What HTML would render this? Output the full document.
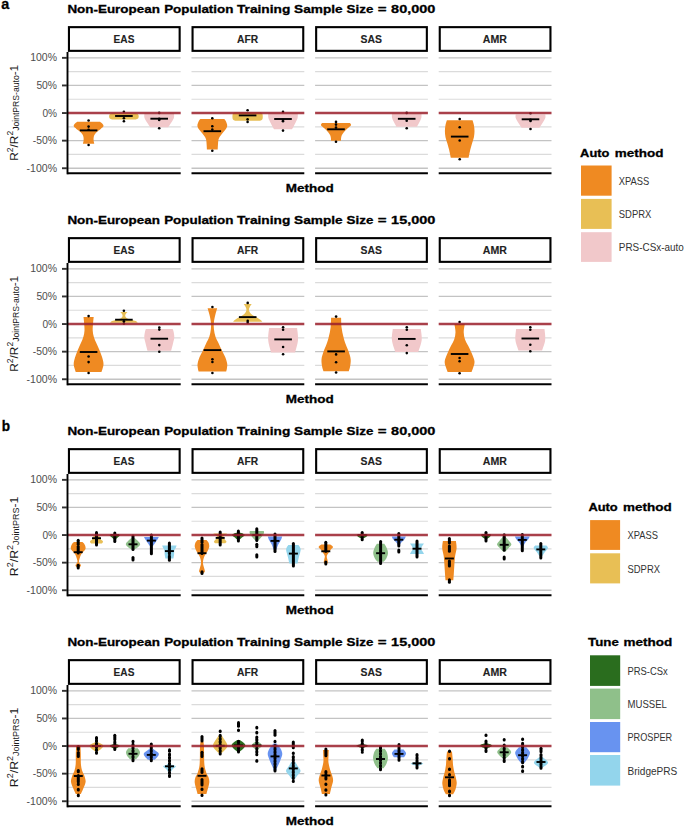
<!DOCTYPE html><html><head><meta charset="utf-8"><style>html,body{margin:0;padding:0;background:#fff;width:685px;height:827px;overflow:hidden}svg{display:block}text{font-family:"Liberation Sans", sans-serif}</style></head><body>
<svg width="685" height="827" viewBox="0 0 685 827">
<rect width="685" height="827" fill="#fff"/>
<text x="1.2" y="8.8" font-size="14" font-weight="bold" fill="#000" text-anchor="start" textLength="8" lengthAdjust="spacingAndGlyphs" stroke="#000" stroke-width="0.3">a</text>
<text x="1.8" y="430.8" font-size="14" font-weight="bold" fill="#000" text-anchor="start" textLength="8.3" lengthAdjust="spacingAndGlyphs" stroke="#000" stroke-width="0.3">b</text>
<text x="67.4" y="13.1" font-size="11.5" font-weight="bold" fill="#000" text-anchor="start" textLength="92.5" lengthAdjust="spacingAndGlyphs" stroke="#000" stroke-width="0.3">Non-European</text>
<text x="164.2" y="13.1" font-size="11.5" font-weight="bold" fill="#000" text-anchor="start" textLength="69.2" lengthAdjust="spacingAndGlyphs" stroke="#000" stroke-width="0.3">Population</text>
<text x="237" y="13.1" font-size="11.5" font-weight="bold" fill="#000" text-anchor="start" textLength="53.3" lengthAdjust="spacingAndGlyphs" stroke="#000" stroke-width="0.3">Training</text>
<text x="294.1" y="13.1" font-size="11.5" font-weight="bold" fill="#000" text-anchor="start" textLength="48.6" lengthAdjust="spacingAndGlyphs" stroke="#000" stroke-width="0.3">Sample</text>
<text x="346.6" y="13.1" font-size="11.5" font-weight="bold" fill="#000" text-anchor="start" textLength="26.8" lengthAdjust="spacingAndGlyphs" stroke="#000" stroke-width="0.3">Size</text>
<text x="377.7" y="13.1" font-size="11.5" font-weight="bold" fill="#000" text-anchor="start" textLength="8.8" lengthAdjust="spacingAndGlyphs" stroke="#000" stroke-width="0.3">=</text>
<text x="391.1" y="13.1" font-size="11.5" font-weight="bold" fill="#000" text-anchor="start" textLength="44.2" lengthAdjust="spacingAndGlyphs" stroke="#000" stroke-width="0.3">80,000</text>
<rect x="68.95" y="27.15" width="110.7" height="23.7" fill="#fff" stroke="#000" stroke-width="2.1"/>
<text x="124" y="42.9" font-size="10" font-weight="bold" fill="#222" text-anchor="middle" textLength="20.8" lengthAdjust="spacingAndGlyphs" stroke="#222" stroke-width="0.1">EAS</text>
<line x1="67.9" y1="57.85" x2="180.7" y2="57.85" stroke="#c3c3c3" stroke-width="1.3"/>
<line x1="67.9" y1="71.65" x2="180.7" y2="71.65" stroke="#dbdbdb" stroke-width="1.2"/>
<line x1="67.9" y1="85.45" x2="180.7" y2="85.45" stroke="#c3c3c3" stroke-width="1.3"/>
<line x1="67.9" y1="99.25" x2="180.7" y2="99.25" stroke="#dbdbdb" stroke-width="1.2"/>
<line x1="67.9" y1="126.85" x2="180.7" y2="126.85" stroke="#dbdbdb" stroke-width="1.2"/>
<line x1="67.9" y1="140.65" x2="180.7" y2="140.65" stroke="#c3c3c3" stroke-width="1.3"/>
<line x1="67.9" y1="154.45" x2="180.7" y2="154.45" stroke="#dbdbdb" stroke-width="1.2"/>
<line x1="67.9" y1="168.25" x2="180.7" y2="168.25" stroke="#c3c3c3" stroke-width="1.3"/>
<rect x="192.55" y="27.15" width="110.7" height="23.7" fill="#fff" stroke="#000" stroke-width="2.1"/>
<text x="247.6" y="42.9" font-size="10" font-weight="bold" fill="#222" text-anchor="middle" textLength="21.1" lengthAdjust="spacingAndGlyphs" stroke="#222" stroke-width="0.1">AFR</text>
<line x1="191.5" y1="57.85" x2="304.3" y2="57.85" stroke="#c3c3c3" stroke-width="1.3"/>
<line x1="191.5" y1="71.65" x2="304.3" y2="71.65" stroke="#dbdbdb" stroke-width="1.2"/>
<line x1="191.5" y1="85.45" x2="304.3" y2="85.45" stroke="#c3c3c3" stroke-width="1.3"/>
<line x1="191.5" y1="99.25" x2="304.3" y2="99.25" stroke="#dbdbdb" stroke-width="1.2"/>
<line x1="191.5" y1="126.85" x2="304.3" y2="126.85" stroke="#dbdbdb" stroke-width="1.2"/>
<line x1="191.5" y1="140.65" x2="304.3" y2="140.65" stroke="#c3c3c3" stroke-width="1.3"/>
<line x1="191.5" y1="154.45" x2="304.3" y2="154.45" stroke="#dbdbdb" stroke-width="1.2"/>
<line x1="191.5" y1="168.25" x2="304.3" y2="168.25" stroke="#c3c3c3" stroke-width="1.3"/>
<rect x="316.15" y="27.15" width="110.7" height="23.7" fill="#fff" stroke="#000" stroke-width="2.1"/>
<text x="371.2" y="42.9" font-size="10" font-weight="bold" fill="#222" text-anchor="middle" textLength="21.4" lengthAdjust="spacingAndGlyphs" stroke="#222" stroke-width="0.1">SAS</text>
<line x1="315.1" y1="57.85" x2="427.9" y2="57.85" stroke="#c3c3c3" stroke-width="1.3"/>
<line x1="315.1" y1="71.65" x2="427.9" y2="71.65" stroke="#dbdbdb" stroke-width="1.2"/>
<line x1="315.1" y1="85.45" x2="427.9" y2="85.45" stroke="#c3c3c3" stroke-width="1.3"/>
<line x1="315.1" y1="99.25" x2="427.9" y2="99.25" stroke="#dbdbdb" stroke-width="1.2"/>
<line x1="315.1" y1="126.85" x2="427.9" y2="126.85" stroke="#dbdbdb" stroke-width="1.2"/>
<line x1="315.1" y1="140.65" x2="427.9" y2="140.65" stroke="#c3c3c3" stroke-width="1.3"/>
<line x1="315.1" y1="154.45" x2="427.9" y2="154.45" stroke="#dbdbdb" stroke-width="1.2"/>
<line x1="315.1" y1="168.25" x2="427.9" y2="168.25" stroke="#c3c3c3" stroke-width="1.3"/>
<rect x="439.75" y="27.15" width="110.7" height="23.7" fill="#fff" stroke="#000" stroke-width="2.1"/>
<text x="494.8" y="42.9" font-size="10" font-weight="bold" fill="#222" text-anchor="middle" textLength="24.1" lengthAdjust="spacingAndGlyphs" stroke="#222" stroke-width="0.1">AMR</text>
<line x1="438.7" y1="57.85" x2="551.5" y2="57.85" stroke="#c3c3c3" stroke-width="1.3"/>
<line x1="438.7" y1="71.65" x2="551.5" y2="71.65" stroke="#dbdbdb" stroke-width="1.2"/>
<line x1="438.7" y1="85.45" x2="551.5" y2="85.45" stroke="#c3c3c3" stroke-width="1.3"/>
<line x1="438.7" y1="99.25" x2="551.5" y2="99.25" stroke="#dbdbdb" stroke-width="1.2"/>
<line x1="438.7" y1="126.85" x2="551.5" y2="126.85" stroke="#dbdbdb" stroke-width="1.2"/>
<line x1="438.7" y1="140.65" x2="551.5" y2="140.65" stroke="#c3c3c3" stroke-width="1.3"/>
<line x1="438.7" y1="154.45" x2="551.5" y2="154.45" stroke="#dbdbdb" stroke-width="1.2"/>
<line x1="438.7" y1="168.25" x2="551.5" y2="168.25" stroke="#c3c3c3" stroke-width="1.3"/>
<path d="M77.2 121.65 L100 121.65 C100.32 121.93 101.32 122.56 101.9 123.3 C102.48 124.04 103.68 125.17 103.5 126.1 C103.32 127.03 101.83 127.98 100.8 128.9 C99.77 129.82 98.32 130.68 97.3 131.6 C96.28 132.52 95.3 133.47 94.7 134.4 C94.1 135.33 93.88 136.18 93.7 137.2 C93.52 138.22 93.5 139.4 93.6 140.5 C93.7 141.6 94.18 143.25 94.3 143.8 L82.9 143.8 C83.02 143.25 83.5 141.6 83.6 140.5 C83.7 139.4 83.68 138.22 83.5 137.2 C83.32 136.18 83.1 135.33 82.5 134.4 C81.9 133.47 80.92 132.52 79.9 131.6 C78.88 130.68 77.43 129.82 76.4 128.9 C75.37 127.98 73.88 127.03 73.7 126.1 C73.52 125.17 74.72 124.04 75.3 123.3 C75.88 122.56 76.88 121.93 77.2 121.65 Z" fill="#EF8A22"/>
<path d="M111.9 113.2 L135.9 113.2 C136.28 113.4 137.73 113.88 138.2 114.4 C138.67 114.92 138.7 115.65 138.7 116.3 C138.7 116.95 138.67 117.77 138.2 118.3 C137.73 118.83 136.28 119.3 135.9 119.5 L111.9 119.5 C111.52 119.3 110.07 118.83 109.6 118.3 C109.13 117.77 109.1 116.95 109.1 116.3 C109.1 115.65 109.13 114.92 109.6 114.4 C110.07 113.88 111.52 113.4 111.9 113.2 Z" fill="#E8BF55"/>
<path d="M144.4 113.5 L174 113.5 C174 114.17 174.38 116.07 174 117.5 C173.62 118.93 172.47 120.77 171.7 122.1 C170.93 123.43 169.98 124.63 169.4 125.5 C168.82 126.37 168.4 127 168.2 127.3 L150.2 127.3 C150 127 149.58 126.37 149 125.5 C148.42 124.63 147.47 123.43 146.7 122.1 C145.93 120.77 144.78 118.93 144.4 117.5 C144.02 116.07 144.4 114.17 144.4 113.5 Z" fill="#F1C8CA"/>
<path d="M200.4 119.1 L224.2 119.1 C224.48 119.47 225.4 120.18 225.9 121.3 C226.4 122.42 227.27 124.42 227.2 125.8 C227.13 127.18 226.27 128.4 225.5 129.6 C224.73 130.8 223.5 131.88 222.6 133 C221.7 134.12 220.78 135.2 220.1 136.3 C219.42 137.4 218.85 138.3 218.5 139.6 C218.15 140.9 218.13 142.43 218 144.1 C217.87 145.77 217.75 148.68 217.7 149.6 L206.9 149.6 C206.85 148.68 206.73 145.77 206.6 144.1 C206.47 142.43 206.45 140.9 206.1 139.6 C205.75 138.3 205.18 137.4 204.5 136.3 C203.82 135.2 202.9 134.12 202 133 C201.1 131.88 199.87 130.8 199.1 129.6 C198.33 128.4 197.47 127.18 197.4 125.8 C197.33 124.42 198.2 122.42 198.7 121.3 C199.2 120.18 200.12 119.47 200.4 119.1 Z" fill="#EF8A22"/>
<path d="M234.6 112.3 L260.6 112.3 C260.92 112.58 262.18 112.88 262.5 114 C262.82 115.12 262.9 117.88 262.5 119 C262.1 120.12 260.5 120.42 260.1 120.7 L235.1 120.7 C234.7 120.42 233.1 120.12 232.7 119 C232.3 117.88 232.38 115.12 232.7 114 C233.02 112.88 234.28 112.58 234.6 112.3 Z" fill="#E8BF55"/>
<path d="M268.2 113.5 L297.8 113.5 C297.77 114.27 297.98 116.57 297.6 118.1 C297.22 119.63 296.18 121.27 295.5 122.7 C294.82 124.13 294.1 125.6 293.5 126.7 C292.9 127.8 292.17 128.87 291.9 129.3 L274.1 129.3 C273.83 128.87 273.1 127.8 272.5 126.7 C271.9 125.6 271.18 124.13 270.5 122.7 C269.82 121.27 268.78 119.63 268.4 118.1 C268.02 116.57 268.23 114.27 268.2 113.5 Z" fill="#F1C8CA"/>
<path d="M322.1 123 L349.9 123 C350.08 123.37 351.42 124.28 351 125.2 C350.58 126.12 348.57 127.38 347.4 128.5 C346.23 129.62 344.93 130.78 344 131.9 C343.07 133.02 342.28 134.18 341.8 135.2 C341.32 136.22 341.23 137.08 341.1 138 C340.97 138.92 341.02 140.25 341 140.7 L331 140.7 C330.98 140.25 331.03 138.92 330.9 138 C330.77 137.08 330.68 136.22 330.2 135.2 C329.72 134.18 328.93 133.02 328 131.9 C327.07 130.78 325.77 129.62 324.6 128.5 C323.43 127.38 321.42 126.12 321 125.2 C320.58 124.28 321.92 123.37 322.1 123 Z" fill="#EF8A22"/>
<path d="M391.9 113.8 L421.5 113.8 C421.47 114.52 421.63 116.72 421.3 118.1 C420.97 119.48 420.22 120.67 419.5 122.1 C418.78 123.53 417.42 125.93 417 126.7 L396.4 126.7 C395.98 125.93 394.62 123.53 393.9 122.1 C393.18 120.67 392.43 119.48 392.1 118.1 C391.77 116.72 391.93 114.52 391.9 113.8 Z" fill="#F1C8CA"/>
<path d="M446.9 120.25 L472.5 120.25 C472.73 121.06 473.57 123.29 473.9 125.1 C474.23 126.91 474.5 129.08 474.5 131.1 C474.5 133.12 474.3 135.18 473.9 137.2 C473.5 139.22 472.68 141.18 472.1 143.2 C471.52 145.22 470.98 146.88 470.4 149.3 C469.82 151.72 468.9 156.3 468.6 157.7 L450.8 157.7 C450.5 156.3 449.58 151.72 449 149.3 C448.42 146.88 447.88 145.22 447.3 143.2 C446.72 141.18 445.9 139.22 445.5 137.2 C445.1 135.18 444.9 133.12 444.9 131.1 C444.9 129.08 445.17 126.91 445.5 125.1 C445.83 123.29 446.67 121.06 446.9 120.25 Z" fill="#EF8A22"/>
<path d="M515.7 114.6 L545.3 114.6 C545.3 115.18 545.73 116.75 545.3 118.1 C544.87 119.45 543.67 121.1 542.7 122.7 C541.73 124.3 540.03 126.87 539.5 127.7 L521.5 127.7 C520.97 126.87 519.27 124.3 518.3 122.7 C517.33 121.1 516.13 119.45 515.7 118.1 C515.27 116.75 515.7 115.18 515.7 114.6 Z" fill="#F1C8CA"/>
<g fill="#000">
<circle cx="88.6" cy="120.5" r="1.3"/>
<circle cx="88.6" cy="145" r="1.3"/>
<circle cx="88.6" cy="126.6" r="1.3"/>
<circle cx="88.6" cy="129.8" r="1.3"/>
<line x1="79.8" y1="130.4" x2="97.4" y2="130.4" stroke="#000" stroke-width="1.9"/>
<circle cx="123.9" cy="111.8" r="1.3"/>
<circle cx="123.9" cy="118.3" r="1.3"/>
<circle cx="123.9" cy="121.2" r="1.3"/>
<line x1="115.1" y1="116" x2="132.7" y2="116" stroke="#000" stroke-width="1.9"/>
<circle cx="159.2" cy="112.9" r="1.3"/>
<circle cx="159.2" cy="118.9" r="1.3"/>
<circle cx="159.2" cy="119.9" r="1.3"/>
<circle cx="159.2" cy="128.3" r="1.3"/>
<line x1="150.4" y1="118.7" x2="168" y2="118.7" stroke="#000" stroke-width="1.9"/>
<circle cx="212.3" cy="118.3" r="1.3"/>
<circle cx="212.3" cy="126.3" r="1.3"/>
<circle cx="212.3" cy="129.6" r="1.3"/>
<circle cx="212.3" cy="150.7" r="1.3"/>
<line x1="203.5" y1="131.2" x2="221.1" y2="131.2" stroke="#000" stroke-width="1.9"/>
<circle cx="247.6" cy="110.2" r="1.3"/>
<circle cx="247.6" cy="119.3" r="1.3"/>
<circle cx="247.6" cy="121.9" r="1.3"/>
<line x1="238.8" y1="115.4" x2="256.4" y2="115.4" stroke="#000" stroke-width="1.9"/>
<circle cx="283" cy="111.9" r="1.3"/>
<circle cx="283" cy="120" r="1.3"/>
<circle cx="283" cy="121.2" r="1.3"/>
<circle cx="283" cy="130.6" r="1.3"/>
<line x1="274.2" y1="119" x2="291.8" y2="119" stroke="#000" stroke-width="1.9"/>
<circle cx="336" cy="121.9" r="1.3"/>
<circle cx="336" cy="124.6" r="1.3"/>
<circle cx="336" cy="127.6" r="1.3"/>
<circle cx="336" cy="141.8" r="1.3"/>
<line x1="327.2" y1="129.3" x2="344.8" y2="129.3" stroke="#000" stroke-width="1.9"/>
<circle cx="406.7" cy="112.9" r="1.3"/>
<circle cx="406.7" cy="120.8" r="1.3"/>
<circle cx="406.7" cy="128.2" r="1.3"/>
<line x1="397.9" y1="118.8" x2="415.5" y2="118.8" stroke="#000" stroke-width="1.9"/>
<circle cx="459.7" cy="119" r="1.3"/>
<circle cx="459.7" cy="127.2" r="1.3"/>
<circle cx="459.7" cy="140.5" r="1.3"/>
<circle cx="459.7" cy="159.2" r="1.3"/>
<line x1="450.9" y1="136.6" x2="468.5" y2="136.6" stroke="#000" stroke-width="1.9"/>
<circle cx="530.5" cy="113.2" r="1.3"/>
<circle cx="530.5" cy="119.9" r="1.3"/>
<circle cx="530.5" cy="121" r="1.3"/>
<circle cx="530.5" cy="129" r="1.3"/>
<line x1="521.7" y1="119.3" x2="539.3" y2="119.3" stroke="#000" stroke-width="1.9"/>
</g>
<line x1="67.9" y1="113.05" x2="180.7" y2="113.05" stroke="#9A1E2A" stroke-opacity="0.85" stroke-width="2.4"/>
<line x1="191.5" y1="113.05" x2="304.3" y2="113.05" stroke="#9A1E2A" stroke-opacity="0.85" stroke-width="2.4"/>
<line x1="315.1" y1="113.05" x2="427.9" y2="113.05" stroke="#9A1E2A" stroke-opacity="0.85" stroke-width="2.4"/>
<line x1="438.7" y1="113.05" x2="551.5" y2="113.05" stroke="#9A1E2A" stroke-opacity="0.85" stroke-width="2.4"/>
<line x1="67.5" y1="52" x2="67.5" y2="174.3" stroke="#000" stroke-width="1.9"/>
<line x1="67.4" y1="173.3" x2="180.7" y2="173.3" stroke="#000" stroke-width="2"/>
<line x1="191.5" y1="173.3" x2="304.3" y2="173.3" stroke="#000" stroke-width="2"/>
<line x1="315.1" y1="173.3" x2="427.9" y2="173.3" stroke="#000" stroke-width="2"/>
<line x1="438.7" y1="173.3" x2="551.5" y2="173.3" stroke="#000" stroke-width="2"/>
<line x1="62" y1="57.85" x2="67" y2="57.85" stroke="#333" stroke-width="1.9"/>
<text x="57" y="61.45" font-size="10.2" font-weight="normal" fill="#4d4d4d" text-anchor="end" textLength="26.8" lengthAdjust="spacingAndGlyphs">100%</text>
<line x1="62" y1="85.45" x2="67" y2="85.45" stroke="#333" stroke-width="1.9"/>
<text x="57" y="89.05" font-size="10.2" font-weight="normal" fill="#4d4d4d" text-anchor="end" textLength="20.6" lengthAdjust="spacingAndGlyphs">50%</text>
<line x1="62" y1="113.05" x2="67" y2="113.05" stroke="#333" stroke-width="1.9"/>
<text x="57" y="116.65" font-size="10.2" font-weight="normal" fill="#4d4d4d" text-anchor="end" textLength="14.6" lengthAdjust="spacingAndGlyphs">0%</text>
<line x1="62" y1="140.65" x2="67" y2="140.65" stroke="#333" stroke-width="1.9"/>
<text x="57" y="144.25" font-size="10.2" font-weight="normal" fill="#4d4d4d" text-anchor="end" textLength="24.2" lengthAdjust="spacingAndGlyphs">-50%</text>
<line x1="62" y1="168.25" x2="67" y2="168.25" stroke="#333" stroke-width="1.9"/>
<text x="57" y="171.85" font-size="10.2" font-weight="normal" fill="#4d4d4d" text-anchor="end" textLength="30.4" lengthAdjust="spacingAndGlyphs">-100%</text>
<text x="309.7" y="192.2" font-size="11.5" font-weight="bold" fill="#000" text-anchor="middle" textLength="48" lengthAdjust="spacingAndGlyphs" stroke="#000" stroke-width="0.3">Method</text>
<text x="67.4" y="224.1" font-size="11.5" font-weight="bold" fill="#000" text-anchor="start" textLength="92.5" lengthAdjust="spacingAndGlyphs" stroke="#000" stroke-width="0.3">Non-European</text>
<text x="164.2" y="224.1" font-size="11.5" font-weight="bold" fill="#000" text-anchor="start" textLength="69.2" lengthAdjust="spacingAndGlyphs" stroke="#000" stroke-width="0.3">Population</text>
<text x="237" y="224.1" font-size="11.5" font-weight="bold" fill="#000" text-anchor="start" textLength="53.3" lengthAdjust="spacingAndGlyphs" stroke="#000" stroke-width="0.3">Training</text>
<text x="294.1" y="224.1" font-size="11.5" font-weight="bold" fill="#000" text-anchor="start" textLength="48.6" lengthAdjust="spacingAndGlyphs" stroke="#000" stroke-width="0.3">Sample</text>
<text x="346.6" y="224.1" font-size="11.5" font-weight="bold" fill="#000" text-anchor="start" textLength="26.8" lengthAdjust="spacingAndGlyphs" stroke="#000" stroke-width="0.3">Size</text>
<text x="377.7" y="224.1" font-size="11.5" font-weight="bold" fill="#000" text-anchor="start" textLength="8.8" lengthAdjust="spacingAndGlyphs" stroke="#000" stroke-width="0.3">=</text>
<text x="391.1" y="224.1" font-size="11.5" font-weight="bold" fill="#000" text-anchor="start" textLength="44.2" lengthAdjust="spacingAndGlyphs" stroke="#000" stroke-width="0.3">15,000</text>
<rect x="68.95" y="238.15" width="110.7" height="23.7" fill="#fff" stroke="#000" stroke-width="2.1"/>
<text x="124" y="253.9" font-size="10" font-weight="bold" fill="#222" text-anchor="middle" textLength="20.8" lengthAdjust="spacingAndGlyphs" stroke="#222" stroke-width="0.1">EAS</text>
<line x1="67.9" y1="268.85" x2="180.7" y2="268.85" stroke="#c3c3c3" stroke-width="1.3"/>
<line x1="67.9" y1="282.65" x2="180.7" y2="282.65" stroke="#dbdbdb" stroke-width="1.2"/>
<line x1="67.9" y1="296.45" x2="180.7" y2="296.45" stroke="#c3c3c3" stroke-width="1.3"/>
<line x1="67.9" y1="310.25" x2="180.7" y2="310.25" stroke="#dbdbdb" stroke-width="1.2"/>
<line x1="67.9" y1="337.85" x2="180.7" y2="337.85" stroke="#dbdbdb" stroke-width="1.2"/>
<line x1="67.9" y1="351.65" x2="180.7" y2="351.65" stroke="#c3c3c3" stroke-width="1.3"/>
<line x1="67.9" y1="365.45" x2="180.7" y2="365.45" stroke="#dbdbdb" stroke-width="1.2"/>
<line x1="67.9" y1="379.25" x2="180.7" y2="379.25" stroke="#c3c3c3" stroke-width="1.3"/>
<rect x="192.55" y="238.15" width="110.7" height="23.7" fill="#fff" stroke="#000" stroke-width="2.1"/>
<text x="247.6" y="253.9" font-size="10" font-weight="bold" fill="#222" text-anchor="middle" textLength="21.1" lengthAdjust="spacingAndGlyphs" stroke="#222" stroke-width="0.1">AFR</text>
<line x1="191.5" y1="268.85" x2="304.3" y2="268.85" stroke="#c3c3c3" stroke-width="1.3"/>
<line x1="191.5" y1="282.65" x2="304.3" y2="282.65" stroke="#dbdbdb" stroke-width="1.2"/>
<line x1="191.5" y1="296.45" x2="304.3" y2="296.45" stroke="#c3c3c3" stroke-width="1.3"/>
<line x1="191.5" y1="310.25" x2="304.3" y2="310.25" stroke="#dbdbdb" stroke-width="1.2"/>
<line x1="191.5" y1="337.85" x2="304.3" y2="337.85" stroke="#dbdbdb" stroke-width="1.2"/>
<line x1="191.5" y1="351.65" x2="304.3" y2="351.65" stroke="#c3c3c3" stroke-width="1.3"/>
<line x1="191.5" y1="365.45" x2="304.3" y2="365.45" stroke="#dbdbdb" stroke-width="1.2"/>
<line x1="191.5" y1="379.25" x2="304.3" y2="379.25" stroke="#c3c3c3" stroke-width="1.3"/>
<rect x="316.15" y="238.15" width="110.7" height="23.7" fill="#fff" stroke="#000" stroke-width="2.1"/>
<text x="371.2" y="253.9" font-size="10" font-weight="bold" fill="#222" text-anchor="middle" textLength="21.4" lengthAdjust="spacingAndGlyphs" stroke="#222" stroke-width="0.1">SAS</text>
<line x1="315.1" y1="268.85" x2="427.9" y2="268.85" stroke="#c3c3c3" stroke-width="1.3"/>
<line x1="315.1" y1="282.65" x2="427.9" y2="282.65" stroke="#dbdbdb" stroke-width="1.2"/>
<line x1="315.1" y1="296.45" x2="427.9" y2="296.45" stroke="#c3c3c3" stroke-width="1.3"/>
<line x1="315.1" y1="310.25" x2="427.9" y2="310.25" stroke="#dbdbdb" stroke-width="1.2"/>
<line x1="315.1" y1="337.85" x2="427.9" y2="337.85" stroke="#dbdbdb" stroke-width="1.2"/>
<line x1="315.1" y1="351.65" x2="427.9" y2="351.65" stroke="#c3c3c3" stroke-width="1.3"/>
<line x1="315.1" y1="365.45" x2="427.9" y2="365.45" stroke="#dbdbdb" stroke-width="1.2"/>
<line x1="315.1" y1="379.25" x2="427.9" y2="379.25" stroke="#c3c3c3" stroke-width="1.3"/>
<rect x="439.75" y="238.15" width="110.7" height="23.7" fill="#fff" stroke="#000" stroke-width="2.1"/>
<text x="494.8" y="253.9" font-size="10" font-weight="bold" fill="#222" text-anchor="middle" textLength="24.1" lengthAdjust="spacingAndGlyphs" stroke="#222" stroke-width="0.1">AMR</text>
<line x1="438.7" y1="268.85" x2="551.5" y2="268.85" stroke="#c3c3c3" stroke-width="1.3"/>
<line x1="438.7" y1="282.65" x2="551.5" y2="282.65" stroke="#dbdbdb" stroke-width="1.2"/>
<line x1="438.7" y1="296.45" x2="551.5" y2="296.45" stroke="#c3c3c3" stroke-width="1.3"/>
<line x1="438.7" y1="310.25" x2="551.5" y2="310.25" stroke="#dbdbdb" stroke-width="1.2"/>
<line x1="438.7" y1="337.85" x2="551.5" y2="337.85" stroke="#dbdbdb" stroke-width="1.2"/>
<line x1="438.7" y1="351.65" x2="551.5" y2="351.65" stroke="#c3c3c3" stroke-width="1.3"/>
<line x1="438.7" y1="365.45" x2="551.5" y2="365.45" stroke="#dbdbdb" stroke-width="1.2"/>
<line x1="438.7" y1="379.25" x2="551.5" y2="379.25" stroke="#c3c3c3" stroke-width="1.3"/>
<path d="M83.5 317 L93.7 317 C93.6 318.02 93.27 320.87 93.1 323.1 C92.93 325.33 92.58 328.13 92.7 330.4 C92.82 332.67 93.2 334.58 93.8 336.7 C94.4 338.82 95.35 340.83 96.3 343.1 C97.25 345.37 98.52 347.88 99.5 350.3 C100.48 352.72 101.53 355.33 102.2 357.6 C102.87 359.87 103.43 362.08 103.5 363.9 C103.57 365.72 102.93 367.17 102.6 368.5 C102.27 369.83 101.68 371.33 101.5 371.9 L75.7 371.9 C75.52 371.33 74.93 369.83 74.6 368.5 C74.27 367.17 73.63 365.72 73.7 363.9 C73.77 362.08 74.33 359.87 75 357.6 C75.67 355.33 76.72 352.72 77.7 350.3 C78.68 347.88 79.95 345.37 80.9 343.1 C81.85 340.83 82.8 338.82 83.4 336.7 C84 334.58 84.38 332.67 84.5 330.4 C84.62 328.13 84.27 325.33 84.1 323.1 C83.93 320.87 83.6 318.02 83.5 317 Z" fill="#EF8A22"/>
<path d="M120.2 311.9 L127.6 311.9 C127.38 312.13 126.7 312.7 126.3 313.3 C125.9 313.9 125.2 314.77 125.2 315.5 C125.2 316.23 125.5 317.05 126.3 317.7 C127.1 318.35 128.42 318.83 130 319.4 C131.58 319.97 134.53 320.55 135.8 321.1 C137.07 321.65 137.3 322.43 137.6 322.7 L110.2 322.7 C110.5 322.43 110.73 321.65 112 321.1 C113.27 320.55 116.22 319.97 117.8 319.4 C119.38 318.83 120.7 318.35 121.5 317.7 C122.3 317.05 122.6 316.23 122.6 315.5 C122.6 314.77 121.9 313.9 121.5 313.3 C121.1 312.7 120.42 312.13 120.2 311.9 Z" fill="#E8BF55"/>
<path d="M145.9 329.05 L172.7 329.05 C172.85 329.49 173.33 330.29 173.6 331.7 C173.87 333.11 174.4 335.55 174.3 337.5 C174.2 339.45 173.53 341.2 173 343.4 C172.47 345.6 171.42 349.48 171.1 350.7 L147.5 350.7 C147.18 349.48 146.13 345.6 145.6 343.4 C145.07 341.2 144.4 339.45 144.3 337.5 C144.2 335.55 144.73 333.11 145 331.7 C145.27 330.29 145.75 329.49 145.9 329.05 Z" fill="#F1C8CA"/>
<path d="M207.6 308.2 L217.2 308.2 C216.9 309.25 215.95 312.17 215.4 314.5 C214.85 316.83 214.15 319.78 213.9 322.2 C213.65 324.62 213.63 326.57 213.9 329 C214.17 331.43 214.7 334.38 215.5 336.8 C216.3 339.22 217.65 341.25 218.7 343.5 C219.75 345.75 220.72 348.03 221.8 350.3 C222.88 352.57 224.3 354.85 225.2 357.1 C226.1 359.35 226.92 361.9 227.2 363.8 C227.48 365.7 227.07 367.2 226.9 368.5 C226.73 369.8 226.32 371.08 226.2 371.6 L198.6 371.6 C198.48 371.08 198.07 369.8 197.9 368.5 C197.73 367.2 197.32 365.7 197.6 363.8 C197.88 361.9 198.7 359.35 199.6 357.1 C200.5 354.85 201.92 352.57 203 350.3 C204.08 348.03 205.05 345.75 206.1 343.5 C207.15 341.25 208.5 339.22 209.3 336.8 C210.1 334.38 210.63 331.43 210.9 329 C211.17 326.57 211.15 324.62 210.9 322.2 C210.65 319.78 209.95 316.83 209.4 314.5 C208.85 312.17 207.9 309.25 207.6 308.2 Z" fill="#EF8A22"/>
<path d="M243.7 304.1 L251.7 304.1 C251.38 304.57 250.26 305.98 249.8 306.9 C249.34 307.82 248.93 308.68 248.95 309.6 C248.97 310.52 249.26 311.47 249.9 312.4 C250.54 313.33 251.5 314.27 252.8 315.2 C254.1 316.13 256.33 317.17 257.7 318 C259.07 318.83 260.23 319.57 261 320.2 C261.77 320.83 262.08 321.53 262.3 321.8 L233.1 321.8 C233.32 321.53 233.63 320.83 234.4 320.2 C235.17 319.57 236.33 318.83 237.7 318 C239.07 317.17 241.3 316.13 242.6 315.2 C243.9 314.27 244.86 313.33 245.5 312.4 C246.14 311.47 246.43 310.52 246.45 309.6 C246.47 308.68 246.06 307.82 245.6 306.9 C245.14 305.98 244.02 304.57 243.7 304.1 Z" fill="#E8BF55"/>
<path d="M269.1 328 L297.1 328 C297.25 330 298.33 335.9 298 340 C297.67 344.1 295.58 350.5 295.1 352.6 L271.1 352.6 C270.62 350.5 268.53 344.1 268.2 340 C267.87 335.9 268.95 330 269.1 328 Z" fill="#F1C8CA"/>
<path d="M331.1 317.7 L341.1 317.7 C341.18 319.37 341.22 324.53 341.6 327.7 C341.98 330.87 342.73 333.98 343.4 336.7 C344.07 339.42 344.7 341.43 345.6 344 C346.5 346.57 347.95 349.53 348.8 352.1 C349.65 354.67 350.48 356.98 350.7 359.4 C350.92 361.82 350.42 364.63 350.1 366.6 C349.78 368.57 349.02 370.43 348.8 371.2 L323.4 371.2 C323.18 370.43 322.42 368.57 322.1 366.6 C321.78 364.63 321.28 361.82 321.5 359.4 C321.72 356.98 322.55 354.67 323.4 352.1 C324.25 349.53 325.7 346.57 326.6 344 C327.5 341.43 328.13 339.42 328.8 336.7 C329.47 333.98 330.22 330.87 330.6 327.7 C330.98 324.53 331.02 319.37 331.1 317.7 Z" fill="#EF8A22"/>
<path d="M392.8 328.9 L420.8 328.9 C420.95 330.75 422.12 336.15 421.7 340 C421.28 343.85 418.87 350 418.3 352 L395.3 352 C394.73 350 392.32 343.85 391.9 340 C391.48 336.15 392.65 330.75 392.8 328.9 Z" fill="#F1C8CA"/>
<path d="M454.4 324 L464.8 324 C464.62 325.37 463.67 329.62 463.7 332.2 C463.73 334.78 464.25 337.23 465 339.5 C465.75 341.77 467.1 343.55 468.2 345.8 C469.3 348.05 470.55 350.43 471.6 353 C472.65 355.57 474.23 358.77 474.5 361.2 C474.77 363.63 473.68 365.82 473.2 367.6 C472.72 369.38 471.87 371.18 471.6 371.9 L447.6 371.9 C447.33 371.18 446.48 369.38 446 367.6 C445.52 365.82 444.43 363.63 444.7 361.2 C444.97 358.77 446.55 355.57 447.6 353 C448.65 350.43 449.9 348.05 451 345.8 C452.1 343.55 453.45 341.77 454.2 339.5 C454.95 337.23 455.47 334.78 455.5 332.2 C455.53 329.62 454.58 325.37 454.4 324 Z" fill="#EF8A22"/>
<path d="M516.1 328.9 L544.5 328.9 C544.62 330.75 545.6 336.4 545.2 340 C544.8 343.6 542.62 348.75 542.1 350.5 L518.5 350.5 C517.98 348.75 515.8 343.6 515.4 340 C515 336.4 515.98 330.75 516.1 328.9 Z" fill="#F1C8CA"/>
<g fill="#000">
<circle cx="88.6" cy="316.1" r="1.3"/>
<circle cx="88.6" cy="356.5" r="1.3"/>
<circle cx="88.6" cy="362.1" r="1.3"/>
<circle cx="88.6" cy="373" r="1.3"/>
<line x1="79.8" y1="352" x2="97.4" y2="352" stroke="#000" stroke-width="1.9"/>
<circle cx="123.9" cy="310.8" r="1.3"/>
<circle cx="123.9" cy="321.3" r="1.3"/>
<circle cx="123.9" cy="323.6" r="1.3"/>
<line x1="115.1" y1="319.7" x2="132.7" y2="319.7" stroke="#000" stroke-width="1.9"/>
<circle cx="159.3" cy="327.5" r="1.3"/>
<circle cx="159.3" cy="329.6" r="1.3"/>
<circle cx="159.3" cy="345.1" r="1.3"/>
<circle cx="159.3" cy="351.8" r="1.3"/>
<line x1="150.5" y1="338.7" x2="168.1" y2="338.7" stroke="#000" stroke-width="1.9"/>
<circle cx="212.4" cy="307" r="1.3"/>
<circle cx="212.4" cy="359.3" r="1.3"/>
<circle cx="212.4" cy="362" r="1.3"/>
<circle cx="212.4" cy="373" r="1.3"/>
<line x1="203.6" y1="350.1" x2="221.2" y2="350.1" stroke="#000" stroke-width="1.9"/>
<circle cx="247.7" cy="302.9" r="1.3"/>
<circle cx="247.7" cy="320.9" r="1.3"/>
<circle cx="247.7" cy="322.8" r="1.3"/>
<line x1="238.9" y1="317.1" x2="256.5" y2="317.1" stroke="#000" stroke-width="1.9"/>
<circle cx="283.1" cy="327.2" r="1.3"/>
<circle cx="283.1" cy="329.8" r="1.3"/>
<circle cx="283.1" cy="347" r="1.3"/>
<circle cx="283.1" cy="354.3" r="1.3"/>
<line x1="274.3" y1="339.4" x2="291.9" y2="339.4" stroke="#000" stroke-width="1.9"/>
<circle cx="336.1" cy="316.6" r="1.3"/>
<circle cx="336.1" cy="354.4" r="1.3"/>
<circle cx="336.1" cy="362.3" r="1.3"/>
<circle cx="336.1" cy="372.5" r="1.3"/>
<line x1="327.3" y1="351.4" x2="344.9" y2="351.4" stroke="#000" stroke-width="1.9"/>
<circle cx="406.8" cy="327.2" r="1.3"/>
<circle cx="406.8" cy="329.8" r="1.3"/>
<circle cx="406.8" cy="345.2" r="1.3"/>
<circle cx="406.8" cy="353.1" r="1.3"/>
<line x1="398" y1="338.9" x2="415.6" y2="338.9" stroke="#000" stroke-width="1.9"/>
<circle cx="459.6" cy="322" r="1.3"/>
<circle cx="459.6" cy="358" r="1.3"/>
<circle cx="459.6" cy="361.2" r="1.3"/>
<circle cx="459.6" cy="373.2" r="1.3"/>
<line x1="450.8" y1="354" x2="468.4" y2="354" stroke="#000" stroke-width="1.9"/>
<circle cx="530.3" cy="327.2" r="1.3"/>
<circle cx="530.3" cy="329.8" r="1.3"/>
<circle cx="530.3" cy="344.7" r="1.3"/>
<circle cx="530.3" cy="351.3" r="1.3"/>
<line x1="521.5" y1="338.5" x2="539.1" y2="338.5" stroke="#000" stroke-width="1.9"/>
</g>
<line x1="67.9" y1="324.05" x2="180.7" y2="324.05" stroke="#9A1E2A" stroke-opacity="0.85" stroke-width="2.4"/>
<line x1="191.5" y1="324.05" x2="304.3" y2="324.05" stroke="#9A1E2A" stroke-opacity="0.85" stroke-width="2.4"/>
<line x1="315.1" y1="324.05" x2="427.9" y2="324.05" stroke="#9A1E2A" stroke-opacity="0.85" stroke-width="2.4"/>
<line x1="438.7" y1="324.05" x2="551.5" y2="324.05" stroke="#9A1E2A" stroke-opacity="0.85" stroke-width="2.4"/>
<line x1="67.5" y1="263" x2="67.5" y2="385.3" stroke="#000" stroke-width="1.9"/>
<line x1="67.4" y1="384.3" x2="180.7" y2="384.3" stroke="#000" stroke-width="2"/>
<line x1="191.5" y1="384.3" x2="304.3" y2="384.3" stroke="#000" stroke-width="2"/>
<line x1="315.1" y1="384.3" x2="427.9" y2="384.3" stroke="#000" stroke-width="2"/>
<line x1="438.7" y1="384.3" x2="551.5" y2="384.3" stroke="#000" stroke-width="2"/>
<line x1="62" y1="268.85" x2="67" y2="268.85" stroke="#333" stroke-width="1.9"/>
<text x="57" y="272.45" font-size="10.2" font-weight="normal" fill="#4d4d4d" text-anchor="end" textLength="26.8" lengthAdjust="spacingAndGlyphs">100%</text>
<line x1="62" y1="296.45" x2="67" y2="296.45" stroke="#333" stroke-width="1.9"/>
<text x="57" y="300.05" font-size="10.2" font-weight="normal" fill="#4d4d4d" text-anchor="end" textLength="20.6" lengthAdjust="spacingAndGlyphs">50%</text>
<line x1="62" y1="324.05" x2="67" y2="324.05" stroke="#333" stroke-width="1.9"/>
<text x="57" y="327.65" font-size="10.2" font-weight="normal" fill="#4d4d4d" text-anchor="end" textLength="14.6" lengthAdjust="spacingAndGlyphs">0%</text>
<line x1="62" y1="351.65" x2="67" y2="351.65" stroke="#333" stroke-width="1.9"/>
<text x="57" y="355.25" font-size="10.2" font-weight="normal" fill="#4d4d4d" text-anchor="end" textLength="24.2" lengthAdjust="spacingAndGlyphs">-50%</text>
<line x1="62" y1="379.25" x2="67" y2="379.25" stroke="#333" stroke-width="1.9"/>
<text x="57" y="382.85" font-size="10.2" font-weight="normal" fill="#4d4d4d" text-anchor="end" textLength="30.4" lengthAdjust="spacingAndGlyphs">-100%</text>
<text x="309.7" y="403.2" font-size="11.5" font-weight="bold" fill="#000" text-anchor="middle" textLength="48" lengthAdjust="spacingAndGlyphs" stroke="#000" stroke-width="0.3">Method</text>
<text x="67.4" y="435.1" font-size="11.5" font-weight="bold" fill="#000" text-anchor="start" textLength="92.5" lengthAdjust="spacingAndGlyphs" stroke="#000" stroke-width="0.3">Non-European</text>
<text x="164.2" y="435.1" font-size="11.5" font-weight="bold" fill="#000" text-anchor="start" textLength="69.2" lengthAdjust="spacingAndGlyphs" stroke="#000" stroke-width="0.3">Population</text>
<text x="237" y="435.1" font-size="11.5" font-weight="bold" fill="#000" text-anchor="start" textLength="53.3" lengthAdjust="spacingAndGlyphs" stroke="#000" stroke-width="0.3">Training</text>
<text x="294.1" y="435.1" font-size="11.5" font-weight="bold" fill="#000" text-anchor="start" textLength="48.6" lengthAdjust="spacingAndGlyphs" stroke="#000" stroke-width="0.3">Sample</text>
<text x="346.6" y="435.1" font-size="11.5" font-weight="bold" fill="#000" text-anchor="start" textLength="26.8" lengthAdjust="spacingAndGlyphs" stroke="#000" stroke-width="0.3">Size</text>
<text x="377.7" y="435.1" font-size="11.5" font-weight="bold" fill="#000" text-anchor="start" textLength="8.8" lengthAdjust="spacingAndGlyphs" stroke="#000" stroke-width="0.3">=</text>
<text x="391.1" y="435.1" font-size="11.5" font-weight="bold" fill="#000" text-anchor="start" textLength="44.2" lengthAdjust="spacingAndGlyphs" stroke="#000" stroke-width="0.3">80,000</text>
<rect x="68.95" y="449.15" width="110.7" height="23.7" fill="#fff" stroke="#000" stroke-width="2.1"/>
<text x="124" y="464.9" font-size="10" font-weight="bold" fill="#222" text-anchor="middle" textLength="20.8" lengthAdjust="spacingAndGlyphs" stroke="#222" stroke-width="0.1">EAS</text>
<line x1="67.9" y1="479.85" x2="180.7" y2="479.85" stroke="#c3c3c3" stroke-width="1.3"/>
<line x1="67.9" y1="493.65" x2="180.7" y2="493.65" stroke="#dbdbdb" stroke-width="1.2"/>
<line x1="67.9" y1="507.45" x2="180.7" y2="507.45" stroke="#c3c3c3" stroke-width="1.3"/>
<line x1="67.9" y1="521.25" x2="180.7" y2="521.25" stroke="#dbdbdb" stroke-width="1.2"/>
<line x1="67.9" y1="548.85" x2="180.7" y2="548.85" stroke="#dbdbdb" stroke-width="1.2"/>
<line x1="67.9" y1="562.65" x2="180.7" y2="562.65" stroke="#c3c3c3" stroke-width="1.3"/>
<line x1="67.9" y1="576.45" x2="180.7" y2="576.45" stroke="#dbdbdb" stroke-width="1.2"/>
<line x1="67.9" y1="590.25" x2="180.7" y2="590.25" stroke="#c3c3c3" stroke-width="1.3"/>
<rect x="192.55" y="449.15" width="110.7" height="23.7" fill="#fff" stroke="#000" stroke-width="2.1"/>
<text x="247.6" y="464.9" font-size="10" font-weight="bold" fill="#222" text-anchor="middle" textLength="21.1" lengthAdjust="spacingAndGlyphs" stroke="#222" stroke-width="0.1">AFR</text>
<line x1="191.5" y1="479.85" x2="304.3" y2="479.85" stroke="#c3c3c3" stroke-width="1.3"/>
<line x1="191.5" y1="493.65" x2="304.3" y2="493.65" stroke="#dbdbdb" stroke-width="1.2"/>
<line x1="191.5" y1="507.45" x2="304.3" y2="507.45" stroke="#c3c3c3" stroke-width="1.3"/>
<line x1="191.5" y1="521.25" x2="304.3" y2="521.25" stroke="#dbdbdb" stroke-width="1.2"/>
<line x1="191.5" y1="548.85" x2="304.3" y2="548.85" stroke="#dbdbdb" stroke-width="1.2"/>
<line x1="191.5" y1="562.65" x2="304.3" y2="562.65" stroke="#c3c3c3" stroke-width="1.3"/>
<line x1="191.5" y1="576.45" x2="304.3" y2="576.45" stroke="#dbdbdb" stroke-width="1.2"/>
<line x1="191.5" y1="590.25" x2="304.3" y2="590.25" stroke="#c3c3c3" stroke-width="1.3"/>
<rect x="316.15" y="449.15" width="110.7" height="23.7" fill="#fff" stroke="#000" stroke-width="2.1"/>
<text x="371.2" y="464.9" font-size="10" font-weight="bold" fill="#222" text-anchor="middle" textLength="21.4" lengthAdjust="spacingAndGlyphs" stroke="#222" stroke-width="0.1">SAS</text>
<line x1="315.1" y1="479.85" x2="427.9" y2="479.85" stroke="#c3c3c3" stroke-width="1.3"/>
<line x1="315.1" y1="493.65" x2="427.9" y2="493.65" stroke="#dbdbdb" stroke-width="1.2"/>
<line x1="315.1" y1="507.45" x2="427.9" y2="507.45" stroke="#c3c3c3" stroke-width="1.3"/>
<line x1="315.1" y1="521.25" x2="427.9" y2="521.25" stroke="#dbdbdb" stroke-width="1.2"/>
<line x1="315.1" y1="548.85" x2="427.9" y2="548.85" stroke="#dbdbdb" stroke-width="1.2"/>
<line x1="315.1" y1="562.65" x2="427.9" y2="562.65" stroke="#c3c3c3" stroke-width="1.3"/>
<line x1="315.1" y1="576.45" x2="427.9" y2="576.45" stroke="#dbdbdb" stroke-width="1.2"/>
<line x1="315.1" y1="590.25" x2="427.9" y2="590.25" stroke="#c3c3c3" stroke-width="1.3"/>
<rect x="439.75" y="449.15" width="110.7" height="23.7" fill="#fff" stroke="#000" stroke-width="2.1"/>
<text x="494.8" y="464.9" font-size="10" font-weight="bold" fill="#222" text-anchor="middle" textLength="24.1" lengthAdjust="spacingAndGlyphs" stroke="#222" stroke-width="0.1">AMR</text>
<line x1="438.7" y1="479.85" x2="551.5" y2="479.85" stroke="#c3c3c3" stroke-width="1.3"/>
<line x1="438.7" y1="493.65" x2="551.5" y2="493.65" stroke="#dbdbdb" stroke-width="1.2"/>
<line x1="438.7" y1="507.45" x2="551.5" y2="507.45" stroke="#c3c3c3" stroke-width="1.3"/>
<line x1="438.7" y1="521.25" x2="551.5" y2="521.25" stroke="#dbdbdb" stroke-width="1.2"/>
<line x1="438.7" y1="548.85" x2="551.5" y2="548.85" stroke="#dbdbdb" stroke-width="1.2"/>
<line x1="438.7" y1="562.65" x2="551.5" y2="562.65" stroke="#c3c3c3" stroke-width="1.3"/>
<line x1="438.7" y1="576.45" x2="551.5" y2="576.45" stroke="#dbdbdb" stroke-width="1.2"/>
<line x1="438.7" y1="590.25" x2="551.5" y2="590.25" stroke="#c3c3c3" stroke-width="1.3"/>
<path d="M73.9 542.1 L82.5 542.1 C82.87 542.53 84.18 543.65 84.7 544.7 C85.22 545.75 85.77 547.3 85.6 548.4 C85.43 549.5 84.45 550.28 83.7 551.3 C82.95 552.32 81.78 553.28 81.1 554.5 C80.42 555.72 79.95 557.37 79.6 558.6 C79.25 559.83 78.78 560.8 79 561.9 C79.22 563 80.78 564.32 80.9 565.2 C81.02 566.08 79.9 566.87 79.7 567.2 L76.7 567.2 C76.5 566.87 75.38 566.08 75.5 565.2 C75.62 564.32 77.18 563 77.4 561.9 C77.62 560.8 77.15 559.83 76.8 558.6 C76.45 557.37 75.98 555.72 75.3 554.5 C74.62 553.28 73.45 552.32 72.7 551.3 C71.95 550.28 70.97 549.5 70.8 548.4 C70.63 547.3 71.18 545.75 71.7 544.7 C72.22 543.65 73.53 542.53 73.9 542.1 Z" fill="#EF8A22"/>
<path d="M93.5 536.1 L99.5 536.1 C99.65 536.58 99.82 538.12 100.4 539 C100.98 539.88 102.77 540.65 103 541.4 C103.23 542.15 102 543.15 101.8 543.5 L91.2 543.5 C91 543.15 89.77 542.15 90 541.4 C90.23 540.65 92.02 539.88 92.6 539 C93.18 538.12 93.35 536.58 93.5 536.1 Z" fill="#E8BF55"/>
<path d="M109.3 534.9 L120.3 534.9 C119.97 535.25 119.05 536.32 118.3 537 C117.55 537.68 116.22 538.67 115.8 539 L113.8 539 C113.38 538.67 112.05 537.68 111.3 537 C110.55 536.32 109.63 535.25 109.3 534.9 Z" fill="#2A6D1E"/>
<path d="M132 537.8 L134 537.8 C134.58 538.25 136.47 539.42 137.5 540.5 C138.53 541.58 140.2 543.13 140.2 544.3 C140.2 545.47 138.53 546.62 137.5 547.5 C136.47 548.38 134.58 549.25 134 549.6 L132 549.6 C131.42 549.25 129.53 548.38 128.5 547.5 C127.47 546.62 125.8 545.47 125.8 544.3 C125.8 543.13 127.47 541.58 128.5 540.5 C129.53 539.42 131.42 538.25 132 537.8 Z" fill="#8FC08A"/>
<path d="M144 537 L158.8 537 C158.55 537.47 157.92 538.8 157.3 539.8 C156.68 540.8 155.83 541.98 155.1 543 C154.37 544.02 153.27 545.42 152.9 545.9 L149.9 545.9 C149.53 545.42 148.43 544.02 147.7 543 C146.97 541.98 146.12 540.8 145.5 539.8 C144.88 538.8 144.25 537.47 144 537 Z" fill="#6893F0"/>
<path d="M162.2 545.5 L176.6 545.5 C176.45 545.92 176.08 547.18 175.7 548 C175.32 548.82 174.57 549.32 174.3 550.4 C174.03 551.48 174.25 553.13 174.1 554.5 C173.95 555.87 173.52 557.92 173.4 558.6 L165.4 558.6 C165.28 557.92 164.85 555.87 164.7 554.5 C164.55 553.13 164.77 551.48 164.5 550.4 C164.23 549.32 163.48 548.82 163.1 548 C162.72 547.18 162.35 545.92 162.2 545.5 Z" fill="#93D5EC"/>
<path d="M197.5 540.1 L206.5 540.1 C206.87 540.58 208.25 541.83 208.7 543 C209.15 544.17 209.4 545.73 209.2 547.1 C209 548.47 208.22 549.83 207.5 551.2 C206.78 552.57 205.58 553.95 204.9 555.3 C204.22 556.65 203.72 557.95 203.4 559.3 C203.08 560.65 202.87 561.9 203 563.4 C203.13 564.9 203.88 566.93 204.2 568.3 C204.52 569.67 205.02 570.78 204.9 571.6 C204.78 572.42 203.73 572.93 203.5 573.2 L200.5 573.2 C200.27 572.93 199.22 572.42 199.1 571.6 C198.98 570.78 199.48 569.67 199.8 568.3 C200.12 566.93 200.87 564.9 201 563.4 C201.13 561.9 200.92 560.65 200.6 559.3 C200.28 557.95 199.78 556.65 199.1 555.3 C198.42 553.95 197.22 552.57 196.5 551.2 C195.78 549.83 195 548.47 194.8 547.1 C194.6 545.73 194.85 544.17 195.3 543 C195.75 541.83 197.13 540.58 197.5 540.1 Z" fill="#EF8A22"/>
<path d="M213.2 533.6 L227.2 533.6 C226.55 534.07 223.72 535.45 223.3 536.4 C222.88 537.35 224.17 538.4 224.7 539.3 C225.23 540.2 226.42 541.15 226.5 541.8 C226.58 542.45 225.42 542.97 225.2 543.2 L215.2 543.2 C214.98 542.97 213.82 542.45 213.9 541.8 C213.98 541.15 215.17 540.2 215.7 539.3 C216.23 538.4 217.52 537.35 217.1 536.4 C216.68 535.45 213.85 534.07 213.2 533.6 Z" fill="#E8BF55"/>
<path d="M236.4 532.8 L240.4 532.8 C241.15 533.13 244.58 534.05 244.9 534.8 C245.22 535.55 243.13 536.55 242.3 537.3 C241.47 538.05 240.3 538.97 239.9 539.3 L236.9 539.3 C236.5 538.97 235.33 538.05 234.5 537.3 C233.67 536.55 231.58 535.55 231.9 534.8 C232.22 534.05 235.65 533.13 236.4 532.8 Z" fill="#2A6D1E"/>
<path d="M249.8 531.1 L263.8 531.1 C263.82 531.45 264.22 532.32 263.9 533.2 C263.58 534.08 262.83 535.18 261.9 536.4 C260.97 537.62 258.9 539.82 258.3 540.5 L255.3 540.5 C254.7 539.82 252.63 537.62 251.7 536.4 C250.77 535.18 250.02 534.08 249.7 533.2 C249.38 532.32 249.78 531.45 249.8 531.1 Z" fill="#8FC08A"/>
<path d="M267.8 536.4 L282.2 536.4 C281.98 537.02 281.55 538.73 280.9 540.1 C280.25 541.47 279.03 543.03 278.3 544.6 C277.57 546.17 276.8 548.68 276.5 549.5 L273.5 549.5 C273.2 548.68 272.43 546.17 271.7 544.6 C270.97 543.03 269.75 541.47 269.1 540.1 C268.45 538.73 268.02 537.02 267.8 536.4 Z" fill="#6893F0"/>
<path d="M288.3 545 L298.5 545 C298.85 545.62 300.33 547.4 300.6 548.7 C300.87 550 300.42 551.3 300.1 552.8 C299.78 554.3 299.13 555.93 298.7 557.7 C298.27 559.47 297.7 562.45 297.5 563.4 L289.3 563.4 C289.1 562.45 288.53 559.47 288.1 557.7 C287.67 555.93 287.02 554.3 286.7 552.8 C286.38 551.3 285.93 550 286.2 548.7 C286.47 547.4 287.95 545.62 288.3 545 Z" fill="#93D5EC"/>
<path d="M321.3 544.6 L330.3 544.6 C330.75 545.02 332.9 546.28 333 547.1 C333.1 547.92 331.62 548.62 330.9 549.5 C330.18 550.38 329.38 551.3 328.7 552.4 C328.02 553.5 327.03 554.95 326.8 556.1 C326.57 557.25 327.13 558.28 327.3 559.3 C327.47 560.32 327.88 561.45 327.8 562.2 C327.72 562.95 326.97 563.53 326.8 563.8 L324.8 563.8 C324.63 563.53 323.88 562.95 323.8 562.2 C323.72 561.45 324.13 560.32 324.3 559.3 C324.47 558.28 325.03 557.25 324.8 556.1 C324.57 554.95 323.58 553.5 322.9 552.4 C322.22 551.3 321.42 550.38 320.7 549.5 C319.98 548.62 318.5 547.92 318.6 547.1 C318.7 546.28 320.85 545.02 321.3 544.6 Z" fill="#EF8A22"/>
<path d="M356.7 534.4 L367.7 534.4 C367.53 534.73 367.37 535.78 366.7 536.4 C366.03 537.02 364.2 537.82 363.7 538.1 L360.7 538.1 C360.2 537.82 358.37 537.02 357.7 536.4 C357.03 535.78 356.87 534.73 356.7 534.4 Z" fill="#2A6D1E"/>
<path d="M376.9 543.8 L384.3 543.8 C384.7 544.48 386.08 546.33 386.7 547.9 C387.32 549.47 388.07 551.43 388 553.2 C387.93 554.97 387.03 557.07 386.3 558.5 C385.57 559.93 384.05 561.25 383.6 561.8 L377.6 561.8 C377.15 561.25 375.63 559.93 374.9 558.5 C374.17 557.07 373.27 554.97 373.2 553.2 C373.13 551.43 373.88 549.47 374.5 547.9 C375.12 546.33 376.5 544.48 376.9 543.8 Z" fill="#8FC08A"/>
<path d="M391.8 536.4 L405.8 536.4 C405.58 536.88 405.25 538.27 404.5 539.3 C403.75 540.33 402.08 541.65 401.3 542.6 C400.52 543.55 400.05 544.6 399.8 545 L397.8 545 C397.55 544.6 397.08 543.55 396.3 542.6 C395.52 541.65 393.85 540.33 393.1 539.3 C392.35 538.27 392.02 536.88 391.8 536.4 Z" fill="#6893F0"/>
<path d="M410 543.4 L424 543.4 C423.68 543.88 422.58 545.35 422.1 546.3 C421.62 547.25 421 548.22 421.1 549.1 C421.2 549.98 422.22 550.78 422.7 551.6 C423.18 552.42 423.78 553.6 424 554 L410 554 C410.22 553.6 410.82 552.42 411.3 551.6 C411.78 550.78 412.8 549.98 412.9 549.1 C413 548.22 412.38 547.25 411.9 546.3 C411.42 545.35 410.32 543.88 410 543.4 Z" fill="#93D5EC"/>
<path d="M442.9 540.9 L455.9 540.9 C456.02 542.07 456.73 545.37 456.6 547.9 C456.47 550.43 455.48 553.1 455.1 556.1 C454.72 559.1 454.52 562.9 454.3 565.9 C454.08 568.9 453.97 571.72 453.8 574.1 C453.63 576.48 453.38 579.18 453.3 580.2 L445.5 580.2 C445.42 579.18 445.17 576.48 445 574.1 C444.83 571.72 444.72 568.9 444.5 565.9 C444.28 562.9 444.08 559.1 443.7 556.1 C443.32 553.1 442.33 550.43 442.2 547.9 C442.07 545.37 442.78 542.07 442.9 540.9 Z" fill="#EF8A22"/>
<path d="M480.7 534.8 L491.3 534.8 C491 535.22 490.22 536.62 489.5 537.3 C488.78 537.98 487.42 538.63 487 538.9 L485 538.9 C484.58 538.63 483.22 537.98 482.5 537.3 C481.78 536.62 481 535.22 480.7 534.8 Z" fill="#2A6D1E"/>
<path d="M502.7 536.9 L505.7 536.9 C506.2 537.5 507.75 539.22 508.7 540.5 C509.65 541.78 511.53 543.23 511.4 544.6 C511.27 545.97 508.93 547.53 507.9 548.7 C506.87 549.87 505.65 551.12 505.2 551.6 L503.2 551.6 C502.75 551.12 501.53 549.87 500.5 548.7 C499.47 547.53 497.13 545.97 497 544.6 C496.87 543.23 498.75 541.78 499.7 540.5 C500.65 539.22 502.2 537.5 502.7 536.9 Z" fill="#8FC08A"/>
<path d="M514.9 536.4 L529.7 536.4 C529.45 536.88 528.98 538.2 528.2 539.3 C527.42 540.4 525.82 541.83 525 543 C524.18 544.17 523.58 545.75 523.3 546.3 L521.3 546.3 C521.02 545.75 520.42 544.17 519.6 543 C518.78 541.83 517.18 540.4 516.4 539.3 C515.62 538.2 515.15 536.88 514.9 536.4 Z" fill="#6893F0"/>
<path d="M535.1 545.4 L546.5 545.4 C546.73 545.82 548.17 546.8 547.9 547.9 C547.63 549 545.83 550.63 544.9 552 C543.97 553.37 542.73 555.42 542.3 556.1 L539.3 556.1 C538.87 555.42 537.63 553.37 536.7 552 C535.77 550.63 533.97 549 533.7 547.9 C533.43 546.8 534.87 545.82 535.1 545.4 Z" fill="#93D5EC"/>
<g fill="#000">
<line x1="78.2" y1="540.2" x2="78.2" y2="544.3" stroke="#000" stroke-width="3" stroke-linecap="round"/>
<line x1="78.2" y1="546.4" x2="78.2" y2="552.9" stroke="#000" stroke-width="3" stroke-linecap="round"/>
<line x1="78.2" y1="565.3" x2="78.2" y2="567.9" stroke="#000" stroke-width="3" stroke-linecap="round"/>
<line x1="73.7" y1="552.2" x2="82.7" y2="552.2" stroke="#000" stroke-width="1.9"/>
<line x1="96.5" y1="532.5" x2="96.5" y2="545.1" stroke="#000" stroke-width="3" stroke-linecap="round"/>
<line x1="92" y1="538.2" x2="101" y2="538.2" stroke="#000" stroke-width="1.9"/>
<line x1="114.8" y1="532.9" x2="114.8" y2="541.4" stroke="#000" stroke-width="3" stroke-linecap="round"/>
<line x1="110.3" y1="535" x2="119.3" y2="535" stroke="#000" stroke-width="1.9"/>
<line x1="133" y1="536.1" x2="133" y2="549.6" stroke="#000" stroke-width="3" stroke-linecap="round"/>
<line x1="133" y1="557.4" x2="133" y2="559.9" stroke="#000" stroke-width="3" stroke-linecap="round"/>
<line x1="128.5" y1="544.3" x2="137.5" y2="544.3" stroke="#000" stroke-width="1.9"/>
<line x1="151.4" y1="534.9" x2="151.4" y2="553.7" stroke="#000" stroke-width="3" stroke-linecap="round"/>
<line x1="146.9" y1="540.6" x2="155.9" y2="540.6" stroke="#000" stroke-width="1.9"/>
<line x1="169.4" y1="543.1" x2="169.4" y2="553.7" stroke="#000" stroke-width="3" stroke-linecap="round"/>
<line x1="169.4" y1="556" x2="169.4" y2="560.2" stroke="#000" stroke-width="3" stroke-linecap="round"/>
<line x1="164.9" y1="551.1" x2="173.9" y2="551.1" stroke="#000" stroke-width="1.9"/>
<line x1="202" y1="538.1" x2="202" y2="542.2" stroke="#000" stroke-width="3" stroke-linecap="round"/>
<line x1="202" y1="544.6" x2="202" y2="553.6" stroke="#000" stroke-width="3" stroke-linecap="round"/>
<line x1="202" y1="571.8" x2="202" y2="573.4" stroke="#000" stroke-width="3" stroke-linecap="round"/>
<line x1="197.5" y1="553.2" x2="206.5" y2="553.2" stroke="#000" stroke-width="1.9"/>
<line x1="220.2" y1="532" x2="220.2" y2="545" stroke="#000" stroke-width="3" stroke-linecap="round"/>
<line x1="215.7" y1="537.9" x2="224.7" y2="537.9" stroke="#000" stroke-width="1.9"/>
<line x1="238.4" y1="531.1" x2="238.4" y2="541" stroke="#000" stroke-width="3" stroke-linecap="round"/>
<line x1="233.9" y1="534.8" x2="242.9" y2="534.8" stroke="#000" stroke-width="1.9"/>
<line x1="256.8" y1="528.7" x2="256.8" y2="540.5" stroke="#000" stroke-width="3" stroke-linecap="round"/>
<line x1="256.8" y1="544.2" x2="256.8" y2="546.7" stroke="#000" stroke-width="3" stroke-linecap="round"/>
<line x1="256.8" y1="554.8" x2="256.8" y2="556.9" stroke="#000" stroke-width="3" stroke-linecap="round"/>
<line x1="252.3" y1="535" x2="261.3" y2="535" stroke="#000" stroke-width="1.9"/>
<line x1="275" y1="534" x2="275" y2="551.6" stroke="#000" stroke-width="3" stroke-linecap="round"/>
<line x1="270.5" y1="540.9" x2="279.5" y2="540.9" stroke="#000" stroke-width="1.9"/>
<line x1="293.4" y1="543.4" x2="293.4" y2="565.9" stroke="#000" stroke-width="3" stroke-linecap="round"/>
<line x1="288.9" y1="553.6" x2="297.9" y2="553.6" stroke="#000" stroke-width="1.9"/>
<line x1="325.8" y1="542.2" x2="325.8" y2="551.2" stroke="#000" stroke-width="3" stroke-linecap="round"/>
<line x1="325.8" y1="562" x2="325.8" y2="564" stroke="#000" stroke-width="3" stroke-linecap="round"/>
<line x1="321.3" y1="551.3" x2="330.3" y2="551.3" stroke="#000" stroke-width="1.9"/>
<line x1="362.2" y1="532.4" x2="362.2" y2="539.7" stroke="#000" stroke-width="3" stroke-linecap="round"/>
<line x1="357.7" y1="535" x2="366.7" y2="535" stroke="#000" stroke-width="1.9"/>
<line x1="380.6" y1="541.4" x2="380.6" y2="563.4" stroke="#000" stroke-width="3" stroke-linecap="round"/>
<line x1="376.1" y1="553.2" x2="385.1" y2="553.2" stroke="#000" stroke-width="1.9"/>
<line x1="398.8" y1="533.6" x2="398.8" y2="545.9" stroke="#000" stroke-width="3" stroke-linecap="round"/>
<line x1="398.8" y1="549.9" x2="398.8" y2="552" stroke="#000" stroke-width="3" stroke-linecap="round"/>
<line x1="394.3" y1="539.7" x2="403.3" y2="539.7" stroke="#000" stroke-width="1.9"/>
<line x1="417" y1="541" x2="417" y2="556.9" stroke="#000" stroke-width="3" stroke-linecap="round"/>
<line x1="412.5" y1="548.7" x2="421.5" y2="548.7" stroke="#000" stroke-width="1.9"/>
<line x1="449.4" y1="538.5" x2="449.4" y2="543" stroke="#000" stroke-width="3" stroke-linecap="round"/>
<line x1="449.4" y1="545.9" x2="449.4" y2="551.2" stroke="#000" stroke-width="3" stroke-linecap="round"/>
<line x1="449.4" y1="561" x2="449.4" y2="565.9" stroke="#000" stroke-width="3" stroke-linecap="round"/>
<line x1="449.4" y1="579.8" x2="449.4" y2="582.2" stroke="#000" stroke-width="3" stroke-linecap="round"/>
<line x1="444.9" y1="558.5" x2="453.9" y2="558.5" stroke="#000" stroke-width="1.9"/>
<line x1="486" y1="532.4" x2="486" y2="541" stroke="#000" stroke-width="3" stroke-linecap="round"/>
<line x1="481.5" y1="535" x2="490.5" y2="535" stroke="#000" stroke-width="1.9"/>
<line x1="504.2" y1="534.8" x2="504.2" y2="550.3" stroke="#000" stroke-width="3" stroke-linecap="round"/>
<line x1="504.2" y1="557" x2="504.2" y2="558.9" stroke="#000" stroke-width="3" stroke-linecap="round"/>
<line x1="499.7" y1="544.8" x2="508.7" y2="544.8" stroke="#000" stroke-width="1.9"/>
<line x1="522.3" y1="534.4" x2="522.3" y2="550.8" stroke="#000" stroke-width="3" stroke-linecap="round"/>
<line x1="517.8" y1="539.9" x2="526.8" y2="539.9" stroke="#000" stroke-width="1.9"/>
<line x1="540.8" y1="543.4" x2="540.8" y2="558.1" stroke="#000" stroke-width="3" stroke-linecap="round"/>
<line x1="536.3" y1="549.4" x2="545.3" y2="549.4" stroke="#000" stroke-width="1.9"/>
</g>
<line x1="67.9" y1="535.05" x2="180.7" y2="535.05" stroke="#9A1E2A" stroke-opacity="0.85" stroke-width="2.4"/>
<line x1="191.5" y1="535.05" x2="304.3" y2="535.05" stroke="#9A1E2A" stroke-opacity="0.85" stroke-width="2.4"/>
<line x1="315.1" y1="535.05" x2="427.9" y2="535.05" stroke="#9A1E2A" stroke-opacity="0.85" stroke-width="2.4"/>
<line x1="438.7" y1="535.05" x2="551.5" y2="535.05" stroke="#9A1E2A" stroke-opacity="0.85" stroke-width="2.4"/>
<line x1="67.5" y1="474" x2="67.5" y2="596.3" stroke="#000" stroke-width="1.9"/>
<line x1="67.4" y1="595.3" x2="180.7" y2="595.3" stroke="#000" stroke-width="2"/>
<line x1="191.5" y1="595.3" x2="304.3" y2="595.3" stroke="#000" stroke-width="2"/>
<line x1="315.1" y1="595.3" x2="427.9" y2="595.3" stroke="#000" stroke-width="2"/>
<line x1="438.7" y1="595.3" x2="551.5" y2="595.3" stroke="#000" stroke-width="2"/>
<line x1="62" y1="479.85" x2="67" y2="479.85" stroke="#333" stroke-width="1.9"/>
<text x="57" y="483.45" font-size="10.2" font-weight="normal" fill="#4d4d4d" text-anchor="end" textLength="26.8" lengthAdjust="spacingAndGlyphs">100%</text>
<line x1="62" y1="507.45" x2="67" y2="507.45" stroke="#333" stroke-width="1.9"/>
<text x="57" y="511.05" font-size="10.2" font-weight="normal" fill="#4d4d4d" text-anchor="end" textLength="20.6" lengthAdjust="spacingAndGlyphs">50%</text>
<line x1="62" y1="535.05" x2="67" y2="535.05" stroke="#333" stroke-width="1.9"/>
<text x="57" y="538.65" font-size="10.2" font-weight="normal" fill="#4d4d4d" text-anchor="end" textLength="14.6" lengthAdjust="spacingAndGlyphs">0%</text>
<line x1="62" y1="562.65" x2="67" y2="562.65" stroke="#333" stroke-width="1.9"/>
<text x="57" y="566.25" font-size="10.2" font-weight="normal" fill="#4d4d4d" text-anchor="end" textLength="24.2" lengthAdjust="spacingAndGlyphs">-50%</text>
<line x1="62" y1="590.25" x2="67" y2="590.25" stroke="#333" stroke-width="1.9"/>
<text x="57" y="593.85" font-size="10.2" font-weight="normal" fill="#4d4d4d" text-anchor="end" textLength="30.4" lengthAdjust="spacingAndGlyphs">-100%</text>
<text x="309.7" y="614.2" font-size="11.5" font-weight="bold" fill="#000" text-anchor="middle" textLength="48" lengthAdjust="spacingAndGlyphs" stroke="#000" stroke-width="0.3">Method</text>
<text x="67.4" y="646.1" font-size="11.5" font-weight="bold" fill="#000" text-anchor="start" textLength="92.5" lengthAdjust="spacingAndGlyphs" stroke="#000" stroke-width="0.3">Non-European</text>
<text x="164.2" y="646.1" font-size="11.5" font-weight="bold" fill="#000" text-anchor="start" textLength="69.2" lengthAdjust="spacingAndGlyphs" stroke="#000" stroke-width="0.3">Population</text>
<text x="237" y="646.1" font-size="11.5" font-weight="bold" fill="#000" text-anchor="start" textLength="53.3" lengthAdjust="spacingAndGlyphs" stroke="#000" stroke-width="0.3">Training</text>
<text x="294.1" y="646.1" font-size="11.5" font-weight="bold" fill="#000" text-anchor="start" textLength="48.6" lengthAdjust="spacingAndGlyphs" stroke="#000" stroke-width="0.3">Sample</text>
<text x="346.6" y="646.1" font-size="11.5" font-weight="bold" fill="#000" text-anchor="start" textLength="26.8" lengthAdjust="spacingAndGlyphs" stroke="#000" stroke-width="0.3">Size</text>
<text x="377.7" y="646.1" font-size="11.5" font-weight="bold" fill="#000" text-anchor="start" textLength="8.8" lengthAdjust="spacingAndGlyphs" stroke="#000" stroke-width="0.3">=</text>
<text x="391.1" y="646.1" font-size="11.5" font-weight="bold" fill="#000" text-anchor="start" textLength="44.2" lengthAdjust="spacingAndGlyphs" stroke="#000" stroke-width="0.3">15,000</text>
<rect x="68.95" y="660.15" width="110.7" height="23.7" fill="#fff" stroke="#000" stroke-width="2.1"/>
<text x="124" y="675.9" font-size="10" font-weight="bold" fill="#222" text-anchor="middle" textLength="20.8" lengthAdjust="spacingAndGlyphs" stroke="#222" stroke-width="0.1">EAS</text>
<line x1="67.9" y1="690.85" x2="180.7" y2="690.85" stroke="#c3c3c3" stroke-width="1.3"/>
<line x1="67.9" y1="704.65" x2="180.7" y2="704.65" stroke="#dbdbdb" stroke-width="1.2"/>
<line x1="67.9" y1="718.45" x2="180.7" y2="718.45" stroke="#c3c3c3" stroke-width="1.3"/>
<line x1="67.9" y1="732.25" x2="180.7" y2="732.25" stroke="#dbdbdb" stroke-width="1.2"/>
<line x1="67.9" y1="759.85" x2="180.7" y2="759.85" stroke="#dbdbdb" stroke-width="1.2"/>
<line x1="67.9" y1="773.65" x2="180.7" y2="773.65" stroke="#c3c3c3" stroke-width="1.3"/>
<line x1="67.9" y1="787.45" x2="180.7" y2="787.45" stroke="#dbdbdb" stroke-width="1.2"/>
<line x1="67.9" y1="801.25" x2="180.7" y2="801.25" stroke="#c3c3c3" stroke-width="1.3"/>
<rect x="192.55" y="660.15" width="110.7" height="23.7" fill="#fff" stroke="#000" stroke-width="2.1"/>
<text x="247.6" y="675.9" font-size="10" font-weight="bold" fill="#222" text-anchor="middle" textLength="21.1" lengthAdjust="spacingAndGlyphs" stroke="#222" stroke-width="0.1">AFR</text>
<line x1="191.5" y1="690.85" x2="304.3" y2="690.85" stroke="#c3c3c3" stroke-width="1.3"/>
<line x1="191.5" y1="704.65" x2="304.3" y2="704.65" stroke="#dbdbdb" stroke-width="1.2"/>
<line x1="191.5" y1="718.45" x2="304.3" y2="718.45" stroke="#c3c3c3" stroke-width="1.3"/>
<line x1="191.5" y1="732.25" x2="304.3" y2="732.25" stroke="#dbdbdb" stroke-width="1.2"/>
<line x1="191.5" y1="759.85" x2="304.3" y2="759.85" stroke="#dbdbdb" stroke-width="1.2"/>
<line x1="191.5" y1="773.65" x2="304.3" y2="773.65" stroke="#c3c3c3" stroke-width="1.3"/>
<line x1="191.5" y1="787.45" x2="304.3" y2="787.45" stroke="#dbdbdb" stroke-width="1.2"/>
<line x1="191.5" y1="801.25" x2="304.3" y2="801.25" stroke="#c3c3c3" stroke-width="1.3"/>
<rect x="316.15" y="660.15" width="110.7" height="23.7" fill="#fff" stroke="#000" stroke-width="2.1"/>
<text x="371.2" y="675.9" font-size="10" font-weight="bold" fill="#222" text-anchor="middle" textLength="21.4" lengthAdjust="spacingAndGlyphs" stroke="#222" stroke-width="0.1">SAS</text>
<line x1="315.1" y1="690.85" x2="427.9" y2="690.85" stroke="#c3c3c3" stroke-width="1.3"/>
<line x1="315.1" y1="704.65" x2="427.9" y2="704.65" stroke="#dbdbdb" stroke-width="1.2"/>
<line x1="315.1" y1="718.45" x2="427.9" y2="718.45" stroke="#c3c3c3" stroke-width="1.3"/>
<line x1="315.1" y1="732.25" x2="427.9" y2="732.25" stroke="#dbdbdb" stroke-width="1.2"/>
<line x1="315.1" y1="759.85" x2="427.9" y2="759.85" stroke="#dbdbdb" stroke-width="1.2"/>
<line x1="315.1" y1="773.65" x2="427.9" y2="773.65" stroke="#c3c3c3" stroke-width="1.3"/>
<line x1="315.1" y1="787.45" x2="427.9" y2="787.45" stroke="#dbdbdb" stroke-width="1.2"/>
<line x1="315.1" y1="801.25" x2="427.9" y2="801.25" stroke="#c3c3c3" stroke-width="1.3"/>
<rect x="439.75" y="660.15" width="110.7" height="23.7" fill="#fff" stroke="#000" stroke-width="2.1"/>
<text x="494.8" y="675.9" font-size="10" font-weight="bold" fill="#222" text-anchor="middle" textLength="24.1" lengthAdjust="spacingAndGlyphs" stroke="#222" stroke-width="0.1">AMR</text>
<line x1="438.7" y1="690.85" x2="551.5" y2="690.85" stroke="#c3c3c3" stroke-width="1.3"/>
<line x1="438.7" y1="704.65" x2="551.5" y2="704.65" stroke="#dbdbdb" stroke-width="1.2"/>
<line x1="438.7" y1="718.45" x2="551.5" y2="718.45" stroke="#c3c3c3" stroke-width="1.3"/>
<line x1="438.7" y1="732.25" x2="551.5" y2="732.25" stroke="#dbdbdb" stroke-width="1.2"/>
<line x1="438.7" y1="759.85" x2="551.5" y2="759.85" stroke="#dbdbdb" stroke-width="1.2"/>
<line x1="438.7" y1="773.65" x2="551.5" y2="773.65" stroke="#c3c3c3" stroke-width="1.3"/>
<line x1="438.7" y1="787.45" x2="551.5" y2="787.45" stroke="#dbdbdb" stroke-width="1.2"/>
<line x1="438.7" y1="801.25" x2="551.5" y2="801.25" stroke="#c3c3c3" stroke-width="1.3"/>
<path d="M76.1 745.8 L80.5 745.8 C80.55 747.25 80.73 751.48 80.8 754.5 C80.87 757.52 80.68 761.25 80.9 763.9 C81.12 766.55 81.5 768.35 82.1 770.4 C82.7 772.45 83.92 774.27 84.5 776.2 C85.08 778.13 85.85 779.82 85.6 782 C85.35 784.18 83.8 787.3 83 789.3 C82.2 791.3 81.17 793.22 80.8 794 L75.8 794 C75.43 793.22 74.4 791.3 73.6 789.3 C72.8 787.3 71.25 784.18 71 782 C70.75 779.82 71.52 778.13 72.1 776.2 C72.68 774.27 73.9 772.45 74.5 770.4 C75.1 768.35 75.48 766.55 75.7 763.9 C75.92 761.25 75.73 757.52 75.8 754.5 C75.87 751.48 76.05 747.25 76.1 745.8 Z" fill="#EF8A22"/>
<path d="M95 742.2 L98 742.2 C98.92 742.82 103.5 744.4 103.5 745.9 C103.5 747.4 98.92 750.32 98 751.2 L95 751.2 C94.08 750.32 89.5 747.4 89.5 745.9 C89.5 744.4 94.08 742.82 95 742.2 Z" fill="#E8BF55"/>
<path d="M112.8 744.2 L116.8 744.2 C117.32 744.48 119.98 745.22 119.9 745.9 C119.82 746.58 116.9 747.9 116.3 748.3 L113.3 748.3 C112.7 747.9 109.78 746.58 109.7 745.9 C109.62 745.22 112.28 744.48 112.8 744.2 Z" fill="#2A6D1E"/>
<path d="M128.3 748.3 L137.7 748.3 C138.08 748.92 139.83 750.7 140 752 C140.17 753.3 139.37 754.88 138.7 756.1 C138.03 757.32 136.45 758.77 136 759.3 L130 759.3 C129.55 758.77 127.97 757.32 127.3 756.1 C126.63 754.88 125.83 753.3 126 752 C126.17 750.7 127.92 748.92 128.3 748.3 Z" fill="#8FC08A"/>
<path d="M149.3 748.9 L153.3 748.9 C154.1 749.5 157.2 751.5 158.1 752.5 C159 753.5 158.98 753.98 158.7 754.9 C158.42 755.82 157.05 757.18 156.4 758 C155.75 758.82 155.07 759.5 154.8 759.8 L147.8 759.8 C147.53 759.5 146.85 758.82 146.2 758 C145.55 757.18 144.18 755.82 143.9 754.9 C143.62 753.98 143.6 753.5 144.5 752.5 C145.4 751.5 148.5 749.5 149.3 748.9 Z" fill="#6893F0"/>
<path d="M168 764.6 L171 764.6 C171.8 764.9 175.47 765.7 175.8 766.4 C176.13 767.1 173.88 767.78 173 768.8 C172.12 769.82 170.92 771.88 170.5 772.5 L168.5 772.5 C168.08 771.88 166.88 769.82 166 768.8 C165.12 767.78 162.87 767.1 163.2 766.4 C163.53 765.7 167.2 764.9 168 764.6 Z" fill="#93D5EC"/>
<path d="M200.5 741.4 L203.5 741.4 C203.58 742.33 203.9 744.67 204 747 C204.1 749.33 204.02 752.3 204.1 755.4 C204.18 758.5 204.15 762.77 204.5 765.6 C204.85 768.43 205.52 770.42 206.2 772.4 C206.88 774.38 208.08 775.82 208.6 777.5 C209.12 779.18 209.45 780.53 209.3 782.5 C209.15 784.47 208.18 787.38 207.7 789.3 C207.22 791.22 206.62 793.22 206.4 794 L197.6 794 C197.38 793.22 196.78 791.22 196.3 789.3 C195.82 787.38 194.85 784.47 194.7 782.5 C194.55 780.53 194.88 779.18 195.4 777.5 C195.92 775.82 197.12 774.38 197.8 772.4 C198.48 770.42 199.15 768.43 199.5 765.6 C199.85 762.77 199.82 758.5 199.9 755.4 C199.98 752.3 199.9 749.33 200 747 C200.1 744.67 200.42 742.33 200.5 741.4 Z" fill="#EF8A22"/>
<path d="M218.7 735.6 L221.7 735.6 C222.65 737.3 227.4 742.87 227.4 745.8 C227.4 748.73 222.65 751.97 221.7 753.2 L218.7 753.2 C217.75 751.97 213 748.73 213 745.8 C213 742.87 217.75 737.3 218.7 735.6 Z" fill="#E8BF55"/>
<path d="M237 740.1 L240 740.1 C240.9 740.98 245.4 743.5 245.4 745.4 C245.4 747.3 240.9 750.48 240 751.5 L237 751.5 C236.1 750.48 231.6 747.3 231.6 745.4 C231.6 743.5 236.1 740.98 237 740.1 Z" fill="#2A6D1E"/>
<path d="M255.3 741.7 L258.3 741.7 C258.93 742.32 262.1 744.17 262.1 745.4 C262.1 746.63 258.93 748.48 258.3 749.1 L255.3 749.1 C254.67 748.48 251.5 746.63 251.5 745.4 C251.5 744.17 254.67 742.32 255.3 741.7 Z" fill="#8FC08A"/>
<path d="M273.5 743.5 L276.5 743.5 C277.17 744.35 279.53 746.83 280.5 748.6 C281.47 750.37 282.33 752.13 282.3 754.1 C282.27 756.07 281.08 758.32 280.3 760.4 C279.52 762.48 278.32 764.83 277.6 766.6 C276.88 768.37 276.27 770.27 276 771 L274 771 C273.73 770.27 273.12 768.37 272.4 766.6 C271.68 764.83 270.48 762.48 269.7 760.4 C268.92 758.32 267.73 756.07 267.7 754.1 C267.67 752.13 268.53 750.37 269.5 748.6 C270.47 746.83 272.83 744.35 273.5 743.5 Z" fill="#6893F0"/>
<path d="M291.3 761.9 L295.3 761.9 C295.75 762.68 297.12 765.08 298 766.6 C298.88 768.12 300.67 769.55 300.6 771 C300.53 772.45 298.57 773.93 297.6 775.3 C296.63 776.67 295.27 778.55 294.8 779.2 L291.8 779.2 C291.33 778.55 289.97 776.67 289 775.3 C288.03 773.93 286.07 772.45 286 771 C285.93 769.55 287.72 768.12 288.6 766.6 C289.48 765.08 290.85 762.68 291.3 761.9 Z" fill="#93D5EC"/>
<path d="M323 750.1 L328.8 750.1 C328.77 750.83 328.67 752.57 328.6 754.5 C328.53 756.43 328.18 759.28 328.4 761.7 C328.62 764.12 329.32 766.82 329.9 769 C330.48 771.18 331.37 772.87 331.9 774.8 C332.43 776.73 333.2 778.43 333.1 780.6 C333 782.77 331.83 785.57 331.3 787.8 C330.77 790.03 330.13 792.97 329.9 794 L321.9 794 C321.67 792.97 321.03 790.03 320.5 787.8 C319.97 785.57 318.8 782.77 318.7 780.6 C318.6 778.43 319.37 776.73 319.9 774.8 C320.43 772.87 321.32 771.18 321.9 769 C322.48 766.82 323.18 764.12 323.4 761.7 C323.62 759.28 323.27 756.43 323.2 754.5 C323.13 752.57 323.03 750.83 323 750.1 Z" fill="#EF8A22"/>
<path d="M360.8 744.2 L363.8 744.2 C364.55 744.45 368.3 745.12 368.3 745.7 C368.3 746.28 364.55 747.37 363.8 747.7 L360.8 747.7 C360.05 747.37 356.3 746.28 356.3 745.7 C356.3 745.12 360.05 744.45 360.8 744.2 Z" fill="#2A6D1E"/>
<path d="M376.2 748.8 L384.8 748.8 C385.17 749.47 386.48 751.18 387 752.8 C387.52 754.42 388.03 756.6 387.9 758.5 C387.77 760.4 386.92 762.58 386.2 764.2 C385.48 765.82 384.03 767.53 383.6 768.2 L377.4 768.2 C376.97 767.53 375.52 765.82 374.8 764.2 C374.08 762.58 373.23 760.4 373.1 758.5 C372.97 756.6 373.48 754.42 374 752.8 C374.52 751.18 375.83 749.47 376.2 748.8 Z" fill="#8FC08A"/>
<path d="M394.4 749.4 L403.6 749.4 C404.02 750.05 406.02 751.98 406.1 753.3 C406.18 754.62 404.43 756.63 404.1 757.3 L393.9 757.3 C393.57 756.63 391.82 754.62 391.9 753.3 C391.98 751.98 393.98 750.05 394.4 749.4 Z" fill="#6893F0"/>
<path d="M415 761.9 L419 761.9 C419.72 762.18 423.38 762.93 423.3 763.6 C423.22 764.27 419.3 765.52 418.5 765.9 L415.5 765.9 C414.7 765.52 410.78 764.27 410.7 763.6 C410.62 762.93 414.28 762.18 415 761.9 Z" fill="#93D5EC"/>
<path d="M447 751.6 L452 751.6 C452.1 752.68 452.42 755.8 452.6 758.1 C452.78 760.4 452.8 762.98 453.1 765.4 C453.4 767.82 453.92 770.43 454.4 772.6 C454.88 774.77 455.62 776.58 456 778.4 C456.38 780.22 456.82 781.57 456.7 783.5 C456.58 785.43 455.9 788.2 455.3 790 C454.7 791.8 453.47 793.58 453.1 794.3 L445.9 794.3 C445.53 793.58 444.3 791.8 443.7 790 C443.1 788.2 442.42 785.43 442.3 783.5 C442.18 781.57 442.62 780.22 443 778.4 C443.38 776.58 444.12 774.77 444.6 772.6 C445.08 770.43 445.6 767.82 445.9 765.4 C446.2 762.98 446.22 760.4 446.4 758.1 C446.58 755.8 446.9 752.68 447 751.6 Z" fill="#EF8A22"/>
<path d="M484.5 743.2 L487.5 743.2 C488.3 743.58 492.3 744.65 492.3 745.5 C492.3 746.35 488.3 747.83 487.5 748.3 L484.5 748.3 C483.7 747.83 479.7 746.35 479.7 745.5 C479.7 744.65 483.7 743.58 484.5 743.2 Z" fill="#2A6D1E"/>
<path d="M501.2 747.2 L507.2 747.2 C507.87 748.05 511.37 750.5 511.2 752.3 C511.03 754.1 507.03 757.05 506.2 758 L502.2 758 C501.37 757.05 497.37 754.1 497.2 752.3 C497.03 750.5 500.53 748.05 501.2 747.2 Z" fill="#8FC08A"/>
<path d="M518.9 747.2 L526.3 747.2 C526.92 748.05 529.72 750.5 530 752.3 C530.28 754.1 528.98 756.18 528 758 C527.02 759.82 524.75 762.33 524.1 763.2 L521.1 763.2 C520.45 762.33 518.18 759.82 517.2 758 C516.22 756.18 514.92 754.1 515.2 752.3 C515.48 750.5 518.28 748.05 518.9 747.2 Z" fill="#6893F0"/>
<path d="M539.5 756.9 L542.5 756.9 C543.43 757.85 548.1 760.8 548.1 762.6 C548.1 764.4 543.43 766.85 542.5 767.7 L539.5 767.7 C538.57 766.85 533.9 764.4 533.9 762.6 C533.9 760.8 538.57 757.85 539.5 756.9 Z" fill="#93D5EC"/>
<g fill="#000">
<line x1="78.3" y1="746.4" x2="78.3" y2="749.4" stroke="#000" stroke-width="3" stroke-linecap="round"/>
<line x1="78.3" y1="752.5" x2="78.3" y2="756.5" stroke="#000" stroke-width="3" stroke-linecap="round"/>
<line x1="78.3" y1="770.4" x2="78.3" y2="771.8" stroke="#000" stroke-width="3" stroke-linecap="round"/>
<line x1="78.3" y1="775.5" x2="78.3" y2="782" stroke="#000" stroke-width="3" stroke-linecap="round"/>
<line x1="78.3" y1="783.9" x2="78.3" y2="784.5" stroke="#000" stroke-width="3" stroke-linecap="round"/>
<line x1="78.3" y1="789.3" x2="78.3" y2="789.9" stroke="#000" stroke-width="3" stroke-linecap="round"/>
<line x1="78.3" y1="795.1" x2="78.3" y2="795.7" stroke="#000" stroke-width="3" stroke-linecap="round"/>
<line x1="73.8" y1="776" x2="82.8" y2="776" stroke="#000" stroke-width="1.9"/>
<line x1="96.5" y1="737.6" x2="96.5" y2="738.2" stroke="#000" stroke-width="3" stroke-linecap="round"/>
<line x1="96.5" y1="740.1" x2="96.5" y2="753.2" stroke="#000" stroke-width="3" stroke-linecap="round" stroke-dasharray="1.6 1.4"/>
<line x1="92" y1="746" x2="101" y2="746" stroke="#000" stroke-width="1.9"/>
<line x1="114.8" y1="735.2" x2="114.8" y2="739.7" stroke="#000" stroke-width="3" stroke-linecap="round"/>
<line x1="114.8" y1="741.8" x2="114.8" y2="750.3" stroke="#000" stroke-width="3" stroke-linecap="round" stroke-dasharray="1.6 1.4"/>
<line x1="110.3" y1="745.9" x2="119.3" y2="745.9" stroke="#000" stroke-width="1.9"/>
<line x1="133" y1="741.3" x2="133" y2="741.8" stroke="#000" stroke-width="3" stroke-linecap="round"/>
<line x1="133" y1="744.2" x2="133" y2="761.4" stroke="#000" stroke-width="3" stroke-linecap="round" stroke-dasharray="1.6 1.4"/>
<line x1="128.5" y1="753.8" x2="137.5" y2="753.8" stroke="#000" stroke-width="1.9"/>
<line x1="151.3" y1="744.1" x2="151.3" y2="761.6" stroke="#000" stroke-width="3" stroke-linecap="round" stroke-dasharray="1.6 1.4"/>
<line x1="146.8" y1="754.9" x2="155.8" y2="754.9" stroke="#000" stroke-width="1.9"/>
<line x1="169.5" y1="749.8" x2="169.5" y2="751.2" stroke="#000" stroke-width="3" stroke-linecap="round"/>
<line x1="169.5" y1="754" x2="169.5" y2="776.7" stroke="#000" stroke-width="3" stroke-linecap="round" stroke-dasharray="1.6 1.4"/>
<line x1="165" y1="766.3" x2="174" y2="766.3" stroke="#000" stroke-width="1.9"/>
<line x1="202" y1="736.6" x2="202" y2="741" stroke="#000" stroke-width="3" stroke-linecap="round"/>
<line x1="202" y1="752.2" x2="202" y2="756.5" stroke="#000" stroke-width="3" stroke-linecap="round"/>
<line x1="202" y1="768.8" x2="202" y2="772.4" stroke="#000" stroke-width="3" stroke-linecap="round"/>
<line x1="202" y1="779.6" x2="202" y2="785" stroke="#000" stroke-width="3" stroke-linecap="round"/>
<line x1="202" y1="789" x2="202" y2="789.6" stroke="#000" stroke-width="3" stroke-linecap="round"/>
<line x1="202" y1="795" x2="202" y2="795.6" stroke="#000" stroke-width="3" stroke-linecap="round"/>
<line x1="197.5" y1="775.8" x2="206.5" y2="775.8" stroke="#000" stroke-width="1.9"/>
<line x1="220.2" y1="731" x2="220.2" y2="731.6" stroke="#000" stroke-width="3" stroke-linecap="round"/>
<line x1="220.2" y1="735.2" x2="220.2" y2="754" stroke="#000" stroke-width="3" stroke-linecap="round" stroke-dasharray="1.6 1.4"/>
<line x1="215.7" y1="745.8" x2="224.7" y2="745.8" stroke="#000" stroke-width="1.9"/>
<line x1="238.5" y1="722.5" x2="238.5" y2="726.2" stroke="#000" stroke-width="3" stroke-linecap="round"/>
<line x1="238.5" y1="730" x2="238.5" y2="730.6" stroke="#000" stroke-width="3" stroke-linecap="round"/>
<line x1="238.5" y1="741.3" x2="238.5" y2="752.3" stroke="#000" stroke-width="3" stroke-linecap="round" stroke-dasharray="1.6 1.4"/>
<line x1="234" y1="745.4" x2="243" y2="745.4" stroke="#000" stroke-width="1.9"/>
<line x1="256.8" y1="727.3" x2="256.8" y2="727.9" stroke="#000" stroke-width="3" stroke-linecap="round"/>
<line x1="256.8" y1="732.3" x2="256.8" y2="732.9" stroke="#000" stroke-width="3" stroke-linecap="round"/>
<line x1="256.8" y1="736.9" x2="256.8" y2="737.5" stroke="#000" stroke-width="3" stroke-linecap="round"/>
<line x1="256.8" y1="738.9" x2="256.8" y2="754.8" stroke="#000" stroke-width="3" stroke-linecap="round" stroke-dasharray="1.6 1.4"/>
<line x1="256.8" y1="760.6" x2="256.8" y2="761.2" stroke="#000" stroke-width="3" stroke-linecap="round"/>
<line x1="252.3" y1="745.4" x2="261.3" y2="745.4" stroke="#000" stroke-width="1.9"/>
<line x1="275" y1="730.5" x2="275" y2="735.2" stroke="#000" stroke-width="3" stroke-linecap="round"/>
<line x1="275" y1="741.2" x2="275" y2="741.8" stroke="#000" stroke-width="3" stroke-linecap="round"/>
<line x1="275" y1="745.4" x2="275" y2="771" stroke="#000" stroke-width="3" stroke-linecap="round" stroke-dasharray="1.6 1.4"/>
<line x1="270.5" y1="756.4" x2="279.5" y2="756.4" stroke="#000" stroke-width="1.9"/>
<line x1="293.3" y1="741.9" x2="293.3" y2="747.8" stroke="#000" stroke-width="3" stroke-linecap="round"/>
<line x1="293.3" y1="753" x2="293.3" y2="753.6" stroke="#000" stroke-width="3" stroke-linecap="round"/>
<line x1="293.3" y1="756.4" x2="293.3" y2="778.4" stroke="#000" stroke-width="3" stroke-linecap="round" stroke-dasharray="1.6 1.4"/>
<line x1="293.3" y1="780.9" x2="293.3" y2="781.5" stroke="#000" stroke-width="3" stroke-linecap="round"/>
<line x1="288.8" y1="768.4" x2="297.8" y2="768.4" stroke="#000" stroke-width="1.9"/>
<line x1="325.9" y1="748.9" x2="325.9" y2="755.7" stroke="#000" stroke-width="3" stroke-linecap="round"/>
<line x1="325.9" y1="771.4" x2="325.9" y2="779.3" stroke="#000" stroke-width="3" stroke-linecap="round" stroke-dasharray="1.6 1.4"/>
<line x1="325.9" y1="783.9" x2="325.9" y2="784.5" stroke="#000" stroke-width="3" stroke-linecap="round"/>
<line x1="325.9" y1="789.7" x2="325.9" y2="790.3" stroke="#000" stroke-width="3" stroke-linecap="round"/>
<line x1="325.9" y1="794.4" x2="325.9" y2="795" stroke="#000" stroke-width="3" stroke-linecap="round"/>
<line x1="321.4" y1="775.5" x2="330.4" y2="775.5" stroke="#000" stroke-width="1.9"/>
<line x1="362.3" y1="740" x2="362.3" y2="752.2" stroke="#000" stroke-width="3" stroke-linecap="round" stroke-dasharray="1.6 1.4"/>
<line x1="357.8" y1="745.8" x2="366.8" y2="745.8" stroke="#000" stroke-width="1.9"/>
<line x1="380.5" y1="747.1" x2="380.5" y2="769.9" stroke="#000" stroke-width="3" stroke-linecap="round" stroke-dasharray="1.6 1.4"/>
<line x1="376" y1="759" x2="385" y2="759" stroke="#000" stroke-width="1.9"/>
<line x1="399" y1="744.6" x2="399" y2="760.2" stroke="#000" stroke-width="3" stroke-linecap="round" stroke-dasharray="1.6 1.4"/>
<line x1="394.5" y1="753.9" x2="403.5" y2="753.9" stroke="#000" stroke-width="1.9"/>
<line x1="417" y1="754.5" x2="417" y2="768.2" stroke="#000" stroke-width="3" stroke-linecap="round" stroke-dasharray="1.6 1.4"/>
<line x1="412.5" y1="763.3" x2="421.5" y2="763.3" stroke="#000" stroke-width="1.9"/>
<line x1="449.5" y1="750.9" x2="449.5" y2="751.5" stroke="#000" stroke-width="3" stroke-linecap="round"/>
<line x1="449.5" y1="758.5" x2="449.5" y2="759.1" stroke="#000" stroke-width="3" stroke-linecap="round"/>
<line x1="449.5" y1="769" x2="449.5" y2="769.6" stroke="#000" stroke-width="3" stroke-linecap="round"/>
<line x1="449.5" y1="774.5" x2="449.5" y2="775.1" stroke="#000" stroke-width="3" stroke-linecap="round"/>
<line x1="449.5" y1="779.7" x2="449.5" y2="785.8" stroke="#000" stroke-width="3" stroke-linecap="round"/>
<line x1="449.5" y1="791.1" x2="449.5" y2="791.7" stroke="#000" stroke-width="3" stroke-linecap="round"/>
<line x1="449.5" y1="795.1" x2="449.5" y2="795.7" stroke="#000" stroke-width="3" stroke-linecap="round"/>
<line x1="445" y1="777.3" x2="454" y2="777.3" stroke="#000" stroke-width="1.9"/>
<line x1="486" y1="735" x2="486" y2="735.6" stroke="#000" stroke-width="3" stroke-linecap="round"/>
<line x1="486" y1="741" x2="486" y2="751.8" stroke="#000" stroke-width="3" stroke-linecap="round" stroke-dasharray="1.6 1.4"/>
<line x1="481.5" y1="745.8" x2="490.5" y2="745.8" stroke="#000" stroke-width="1.9"/>
<line x1="504.2" y1="739.5" x2="504.2" y2="740.1" stroke="#000" stroke-width="3" stroke-linecap="round"/>
<line x1="504.2" y1="744.9" x2="504.2" y2="762.6" stroke="#000" stroke-width="3" stroke-linecap="round" stroke-dasharray="1.6 1.4"/>
<line x1="499.7" y1="752.3" x2="508.7" y2="752.3" stroke="#000" stroke-width="1.9"/>
<line x1="522.6" y1="738.9" x2="522.6" y2="739.5" stroke="#000" stroke-width="3" stroke-linecap="round"/>
<line x1="522.6" y1="743.2" x2="522.6" y2="763.7" stroke="#000" stroke-width="3" stroke-linecap="round" stroke-dasharray="1.6 1.4"/>
<line x1="522.6" y1="766.3" x2="522.6" y2="766.9" stroke="#000" stroke-width="3" stroke-linecap="round"/>
<line x1="522.6" y1="770.8" x2="522.6" y2="771.4" stroke="#000" stroke-width="3" stroke-linecap="round"/>
<line x1="518.1" y1="755.2" x2="527.1" y2="755.2" stroke="#000" stroke-width="1.9"/>
<line x1="541" y1="748.3" x2="541" y2="751.8" stroke="#000" stroke-width="3" stroke-linecap="round"/>
<line x1="541" y1="754.6" x2="541" y2="768.8" stroke="#000" stroke-width="3" stroke-linecap="round" stroke-dasharray="1.6 1.4"/>
<line x1="536.5" y1="762" x2="545.5" y2="762" stroke="#000" stroke-width="1.9"/>
</g>
<line x1="67.9" y1="746.05" x2="180.7" y2="746.05" stroke="#9A1E2A" stroke-opacity="0.85" stroke-width="2.4"/>
<line x1="191.5" y1="746.05" x2="304.3" y2="746.05" stroke="#9A1E2A" stroke-opacity="0.85" stroke-width="2.4"/>
<line x1="315.1" y1="746.05" x2="427.9" y2="746.05" stroke="#9A1E2A" stroke-opacity="0.85" stroke-width="2.4"/>
<line x1="438.7" y1="746.05" x2="551.5" y2="746.05" stroke="#9A1E2A" stroke-opacity="0.85" stroke-width="2.4"/>
<line x1="67.5" y1="685" x2="67.5" y2="807.3" stroke="#000" stroke-width="1.9"/>
<line x1="67.4" y1="806.3" x2="180.7" y2="806.3" stroke="#000" stroke-width="2"/>
<line x1="191.5" y1="806.3" x2="304.3" y2="806.3" stroke="#000" stroke-width="2"/>
<line x1="315.1" y1="806.3" x2="427.9" y2="806.3" stroke="#000" stroke-width="2"/>
<line x1="438.7" y1="806.3" x2="551.5" y2="806.3" stroke="#000" stroke-width="2"/>
<line x1="62" y1="690.85" x2="67" y2="690.85" stroke="#333" stroke-width="1.9"/>
<text x="57" y="694.45" font-size="10.2" font-weight="normal" fill="#4d4d4d" text-anchor="end" textLength="26.8" lengthAdjust="spacingAndGlyphs">100%</text>
<line x1="62" y1="718.45" x2="67" y2="718.45" stroke="#333" stroke-width="1.9"/>
<text x="57" y="722.05" font-size="10.2" font-weight="normal" fill="#4d4d4d" text-anchor="end" textLength="20.6" lengthAdjust="spacingAndGlyphs">50%</text>
<line x1="62" y1="746.05" x2="67" y2="746.05" stroke="#333" stroke-width="1.9"/>
<text x="57" y="749.65" font-size="10.2" font-weight="normal" fill="#4d4d4d" text-anchor="end" textLength="14.6" lengthAdjust="spacingAndGlyphs">0%</text>
<line x1="62" y1="773.65" x2="67" y2="773.65" stroke="#333" stroke-width="1.9"/>
<text x="57" y="777.25" font-size="10.2" font-weight="normal" fill="#4d4d4d" text-anchor="end" textLength="24.2" lengthAdjust="spacingAndGlyphs">-50%</text>
<line x1="62" y1="801.25" x2="67" y2="801.25" stroke="#333" stroke-width="1.9"/>
<text x="57" y="804.85" font-size="10.2" font-weight="normal" fill="#4d4d4d" text-anchor="end" textLength="30.4" lengthAdjust="spacingAndGlyphs">-100%</text>
<text x="309.7" y="825.2" font-size="11.5" font-weight="bold" fill="#000" text-anchor="middle" textLength="48" lengthAdjust="spacingAndGlyphs" stroke="#000" stroke-width="0.3">Method</text>
<g transform="translate(18.4 112.8) rotate(-90)"><text x="0" y="0" font-size="11.4" fill="#1a1a1a" text-anchor="middle" textLength="96" lengthAdjust="spacingAndGlyphs">R<tspan dy="-5.6" font-size="8.3">2</tspan><tspan dy="5.6">/R</tspan><tspan dy="-5.6" font-size="8.3">2</tspan><tspan dy="6.6" font-size="8.3">JointPRS-auto</tspan><tspan dy="-1" font-size="11.4">-1</tspan></text></g>
<g transform="translate(18.4 323.8) rotate(-90)"><text x="0" y="0" font-size="11.4" fill="#1a1a1a" text-anchor="middle" textLength="96" lengthAdjust="spacingAndGlyphs">R<tspan dy="-5.6" font-size="8.3">2</tspan><tspan dy="5.6">/R</tspan><tspan dy="-5.6" font-size="8.3">2</tspan><tspan dy="6.6" font-size="8.3">JointPRS-auto</tspan><tspan dy="-1" font-size="11.4">-1</tspan></text></g>
<g transform="translate(18.4 536.4) rotate(-90)"><text x="0" y="0" font-size="11.4" fill="#1a1a1a" text-anchor="middle" textLength="79.5" lengthAdjust="spacingAndGlyphs">R<tspan dy="-5.6" font-size="8.3">2</tspan><tspan dy="5.6">/R</tspan><tspan dy="-5.6" font-size="8.3">2</tspan><tspan dy="6.6" font-size="8.3">JointPRS</tspan><tspan dy="-1" font-size="11.4">-1</tspan></text></g>
<g transform="translate(18.4 747.4) rotate(-90)"><text x="0" y="0" font-size="11.4" fill="#1a1a1a" text-anchor="middle" textLength="79.5" lengthAdjust="spacingAndGlyphs">R<tspan dy="-5.6" font-size="8.3">2</tspan><tspan dy="5.6">/R</tspan><tspan dy="-5.6" font-size="8.3">2</tspan><tspan dy="6.6" font-size="8.3">JointPRS</tspan><tspan dy="-1" font-size="11.4">-1</tspan></text></g>
<text x="580.1" y="156.8" font-size="11.2" font-weight="bold" fill="#000" text-anchor="start" textLength="29.3" lengthAdjust="spacingAndGlyphs" stroke="#000" stroke-width="0.3">Auto</text><text x="614.8" y="156.8" font-size="11.2" font-weight="bold" fill="#000" text-anchor="start" textLength="48.6" lengthAdjust="spacingAndGlyphs" stroke="#000" stroke-width="0.3">method</text><rect x="581" y="165.5" width="30.6" height="30.2" fill="#EF8A22"/><text x="618.8" y="184.8" font-size="10.2" font-weight="normal" fill="#333" text-anchor="start" textLength="30.5" lengthAdjust="spacingAndGlyphs">XPASS</text><rect x="581" y="198.9" width="30.6" height="30" fill="#E8BF55"/><text x="618.8" y="218.1" font-size="10.2" font-weight="normal" fill="#333" text-anchor="start" textLength="32.5" lengthAdjust="spacingAndGlyphs">SDPRX</text><rect x="581" y="232.2" width="30.6" height="29.7" fill="#F1C8CA"/><text x="618.8" y="251.25" font-size="10.2" font-weight="normal" fill="#333" text-anchor="start" textLength="65" lengthAdjust="spacingAndGlyphs">PRS-CSx-auto</text>
<text x="588.4" y="511" font-size="11.2" font-weight="bold" fill="#000" text-anchor="start" textLength="29.3" lengthAdjust="spacingAndGlyphs" stroke="#000" stroke-width="0.3">Auto</text><text x="623.1" y="511" font-size="11.2" font-weight="bold" fill="#000" text-anchor="start" textLength="48.6" lengthAdjust="spacingAndGlyphs" stroke="#000" stroke-width="0.3">method</text><rect x="590.1" y="520.1" width="30" height="29.8" fill="#EF8A22"/><text x="627.5" y="539.2" font-size="10.2" font-weight="normal" fill="#333" text-anchor="start" textLength="30.5" lengthAdjust="spacingAndGlyphs">XPASS</text><rect x="590.1" y="553.3" width="30" height="30.1" fill="#E8BF55"/><text x="627.5" y="572.55" font-size="10.2" font-weight="normal" fill="#333" text-anchor="start" textLength="32.5" lengthAdjust="spacingAndGlyphs">SDPRX</text>
<text x="588.1" y="646.4" font-size="11.2" font-weight="bold" fill="#000" text-anchor="start" textLength="30.7" lengthAdjust="spacingAndGlyphs" stroke="#000" stroke-width="0.3">Tune</text><text x="623.5" y="646.4" font-size="11.2" font-weight="bold" fill="#000" text-anchor="start" textLength="48.7" lengthAdjust="spacingAndGlyphs" stroke="#000" stroke-width="0.3">method</text><rect x="590" y="655.3" width="30.2" height="30.6" fill="#2A6D1E"/><text x="627.5" y="674.8" font-size="10.2" font-weight="normal" fill="#333" text-anchor="start" textLength="40.3" lengthAdjust="spacingAndGlyphs">PRS-CSx</text><rect x="590" y="688.6" width="30.2" height="30.5" fill="#8FC08A"/><text x="627.5" y="708.05" font-size="10.2" font-weight="normal" fill="#333" text-anchor="start" textLength="39.4" lengthAdjust="spacingAndGlyphs">MUSSEL</text><rect x="590" y="722" width="30.2" height="30.2" fill="#6893F0"/><text x="627.5" y="741.3" font-size="10.2" font-weight="normal" fill="#333" text-anchor="start" textLength="44.7" lengthAdjust="spacingAndGlyphs">PROSPER</text><rect x="590" y="755" width="30.2" height="30.6" fill="#93D5EC"/><text x="627.5" y="774.5" font-size="10.2" font-weight="normal" fill="#333" text-anchor="start" textLength="49.8" lengthAdjust="spacingAndGlyphs">BridgePRS</text>
</svg></body></html>
